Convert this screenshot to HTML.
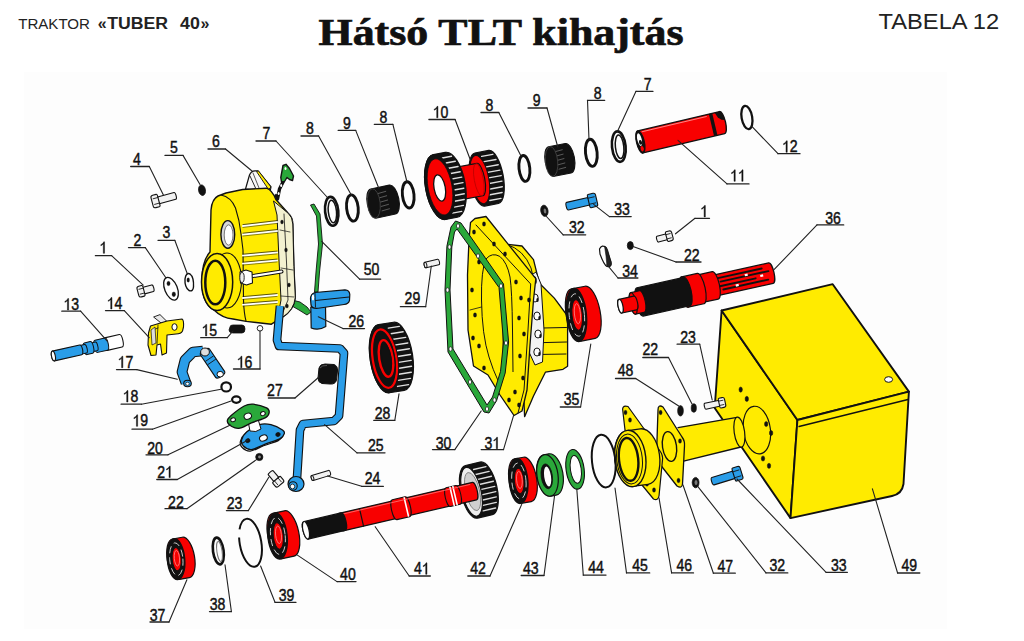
<!DOCTYPE html>
<html><head><meta charset="utf-8"><title>Hátsó TLT kihajtás</title>
<style>
html,body{margin:0;padding:0;background:#fff;width:1024px;height:641px;overflow:hidden}
svg{display:block}
.lb{font-family:"Liberation Sans",sans-serif;font-size:16px;fill:#111;stroke:#111;stroke-width:0.45px}
.hd{font-family:"Liberation Sans",sans-serif;fill:#222}
.tt{font-family:"Liberation Serif",serif;font-weight:bold;fill:#111}
</style></head><body>
<svg width="1024" height="641" viewBox="0 0 1024 641">
<rect x="0" y="0" width="1024" height="641" fill="#ffffff"/>
<rect x="24" y="72" width="923" height="557" fill="#fdfdfd"/>
<polygon points="721.6,310.5 797.4,420 790.5,518.1 714.7,408" fill="#ffeb00" stroke="#111111" stroke-width="1.9" stroke-linejoin="round" />
<polygon points="721.6,310.5 832.7,284.2 908.9,391.6 797.4,420" fill="#ffeb00" stroke="#111111" stroke-width="1.9" stroke-linejoin="round" />
<path d="M797.4,420 L908.9,391.6 L903.5,484 Q902,494 892,496 L790.5,518.1 Z" fill="#ffeb00" stroke="#111111" stroke-width="1.9" stroke-linejoin="round" />
<polyline points="799,426.5 908,399.5" fill="none" stroke="#111111" stroke-width="1.3" stroke-linejoin="round" stroke-linecap="round" />
<ellipse cx="888.6" cy="379.5" rx="4" ry="2.8" fill="#ffffff" stroke="#111111" stroke-width="1.0" />
<ellipse cx="756.9" cy="430.1" rx="13.5" ry="24" fill="none" stroke="#111111" stroke-width="1.2" transform="rotate(-8 756.9 430.1)" />
<ellipse cx="740.7" cy="389.6" rx="1.7" ry="2.6" fill="#111111" stroke="#111111" stroke-width="0.5" />
<ellipse cx="746.8" cy="398.9" rx="1.7" ry="2.6" fill="#111111" stroke="#111111" stroke-width="0.5" />
<ellipse cx="766.2" cy="424" rx="1.7" ry="2.6" fill="#111111" stroke="#111111" stroke-width="0.5" />
<ellipse cx="771.1" cy="433" rx="1.7" ry="2.6" fill="#111111" stroke="#111111" stroke-width="0.5" />
<ellipse cx="763" cy="458.5" rx="1.7" ry="2.6" fill="#111111" stroke="#111111" stroke-width="0.5" />
<ellipse cx="769" cy="465.8" rx="1.7" ry="2.6" fill="#111111" stroke="#111111" stroke-width="0.5" />
<polygon points="678,427.6 737,417.3 741,447 683.6,461.1" fill="#ffeb00" stroke="none" stroke-width="0" stroke-linejoin="round" />
<polyline points="678,427.6 737,417.3" fill="none" stroke="#111111" stroke-width="1.3" stroke-linejoin="round" stroke-linecap="round" />
<polyline points="683.6,461.1 741,447" fill="none" stroke="#111111" stroke-width="1.3" stroke-linejoin="round" stroke-linecap="round" />
<ellipse cx="739.4" cy="432.1" rx="5.2" ry="15.2" fill="#ffeb00" stroke="#111111" stroke-width="1.2" transform="rotate(-8 739.4 432.1)" />
<path d="M658,410 Q658,404 663,407 L682,437 Q685,441 684.5,446 L682.5,484 Q682,489 677,486 L659,463 Q656,459 656.5,455 Z" fill="#ffeb00" stroke="#111111" stroke-width="1.3" stroke-linejoin="round" />
<ellipse cx="669.5" cy="446.5" rx="7" ry="15" fill="#ffeb00" stroke="#111111" stroke-width="1.4" transform="rotate(-8 669.5 446.5)" />
<ellipse cx="660.6" cy="412.5" rx="1.5" ry="2.2" fill="#111111" stroke="#111111" stroke-width="0.4" />
<ellipse cx="680" cy="441" rx="1.5" ry="2.2" fill="#111111" stroke="#111111" stroke-width="0.4" />
<ellipse cx="678.5" cy="480.5" rx="1.5" ry="2.2" fill="#111111" stroke="#111111" stroke-width="0.4" />
<ellipse cx="661" cy="457" rx="1.5" ry="2.2" fill="#111111" stroke="#111111" stroke-width="0.4" />
<path d="M622.6,409 Q623,405 628,406.5 L660,451 Q663,455 662.5,460 L659,496 Q658,501 653.5,499 L642,485 L625,430 Z" fill="#ffeb00" stroke="#111111" stroke-width="1.2" stroke-linejoin="round" />
<ellipse cx="625.5" cy="412.5" rx="1.5" ry="2.2" fill="#111111" stroke="#111111" stroke-width="0.4" />
<ellipse cx="630" cy="420" rx="1.5" ry="2.2" fill="#111111" stroke="#111111" stroke-width="0.4" />
<ellipse cx="651" cy="460" rx="1.5" ry="2.2" fill="#111111" stroke="#111111" stroke-width="0.4" />
<ellipse cx="654" cy="490" rx="1.5" ry="2.2" fill="#111111" stroke="#111111" stroke-width="0.4" />
<ellipse cx="647" cy="484" rx="1.5" ry="2.2" fill="#111111" stroke="#111111" stroke-width="0.4" />
<ellipse cx="655" cy="459" rx="3.2" ry="4.2" fill="#ffeb00" stroke="#111111" stroke-width="1.0" />
<g transform="translate(630.3 458.5) rotate(-8)">
<path d="M0,-28 L14,-28 A15.4,28 0 0 1 14,28 L0,28 A15.4,28 0 0 1 0,-28 Z" fill="#ffeb00" stroke="#111111" stroke-width="1.3" stroke-linejoin="round" />
</g>
<ellipse cx="630.3" cy="458.5" rx="15.5" ry="28.3" fill="#ffeb00" stroke="#111111" stroke-width="1.4" transform="rotate(-6 630.3 458.5)" />
<ellipse cx="629.5" cy="459" rx="12.8" ry="25" fill="none" stroke="#111111" stroke-width="1.0" transform="rotate(-6 629.5 459)" />
<ellipse cx="628.6" cy="459.4" rx="9.6" ry="21.5" fill="#ffeb00" stroke="#111111" stroke-width="2.4" transform="rotate(-6 628.6 459.4)" />
<ellipse cx="680.5" cy="410.8" rx="2.9" ry="5.3" fill="#111111" stroke="#111111" stroke-width="0.6" />
<ellipse cx="693.8" cy="408" rx="2.6" ry="4.3" fill="#111111" stroke="#111111" stroke-width="0.6" />
<g transform="translate(721.5 402.8) rotate(168)">
<path d="M1.5,-3 L16.5,-3 A1,3 0 0 1 16.5,3 L1.5,3 A1,3 0 0 1 1.5,-3 Z" fill="#f2f2f2" stroke="#111111" stroke-width="1.1" stroke-linejoin="round" />
<path d="M-1.5,-5 L1.5,-5 Q2.5,-5 2.5,-3.5 L2.5,3.5 Q2.5,5 1.5,5 L-1.5,5 Q-3.7,5 -3.7,3 L-3.7,-3 Q-3.7,-5 -1.5,-5 Z" fill="#f2f2f2" stroke="#111111" stroke-width="1.1" stroke-linejoin="round" />
<polyline points="-2,-2.2 2.5,-2.2" fill="none" stroke="#111111" stroke-width="0.8" stroke-linejoin="round" stroke-linecap="round" />
<polyline points="-2,2.2 2.5,2.2" fill="none" stroke="#111111" stroke-width="0.8" stroke-linejoin="round" stroke-linecap="round" />
</g>
<ellipse cx="695.6" cy="482.6" rx="3.4" ry="5.2" fill="#111111" stroke="#111111" stroke-width="0.8" />
<ellipse cx="696" cy="482.6" rx="1.5" ry="2.5" fill="#777" stroke="none" stroke-width="0" />
<g transform="translate(737 473.8) rotate(163)">
<path d="M2.1,-3.9 L25.1,-3.9 A1.4,3.9 0 0 1 25.1,3.9 L2.1,3.9 A1.4,3.9 0 0 1 2.1,-3.9 Z" fill="#2a9de8" stroke="#111111" stroke-width="1.1" stroke-linejoin="round" />
<path d="M-2.5,-6.8 L2.5,-6.8 Q3.5,-6.8 3.5,-5.3 L3.5,5.3 Q3.5,6.8 2.5,6.8 L-2.5,6.8 Q-4.7,6.8 -4.7,4.8 L-4.7,-4.8 Q-4.7,-6.8 -2.5,-6.8 Z" fill="#2a9de8" stroke="#111111" stroke-width="1.1" stroke-linejoin="round" />
<polyline points="-3,-3.1 3.5,-3.1" fill="none" stroke="#111111" stroke-width="0.8" stroke-linejoin="round" stroke-linecap="round" />
<polyline points="-3,3.1 3.5,3.1" fill="none" stroke="#111111" stroke-width="0.8" stroke-linejoin="round" stroke-linecap="round" />
</g>
<ellipse cx="603.7" cy="461.1" rx="11.7" ry="26.4" fill="none" stroke="#111111" stroke-width="2.0" transform="rotate(-6 603.7 461.1)" />
<ellipse cx="575.1" cy="469.3" rx="9" ry="20" fill="#2aa83a" stroke="#111111" stroke-width="1.1" transform="rotate(-8 575.1 469.3)" />
<ellipse cx="575.8" cy="469.3" rx="5.4" ry="14" fill="#ffffff" stroke="#111111" stroke-width="1.0" transform="rotate(-8 575.8 469.3)" />
<g transform="translate(547.5 475.4) rotate(-10)">
<path d="M0,-21 L5,-21 A10.5,21 0 0 1 5,21 L0,21 A10.5,21 0 0 1 0,-21 Z" fill="#2aa83a" stroke="#111111" stroke-width="1.2" stroke-linejoin="round" />
</g>
<ellipse cx="547.5" cy="475.4" rx="10.5" ry="21" fill="#2aa83a" stroke="#111111" stroke-width="1.2" transform="rotate(-8 547.5 475.4)" />
<ellipse cx="546.8" cy="476.3" rx="5.6" ry="12.5" fill="#111111" stroke="#111111" stroke-width="0.8" transform="rotate(-8 546.8 476.3)" />
<ellipse cx="547.6" cy="476.5" rx="3.4" ry="10" fill="#ffffff" stroke="none" stroke-width="0" transform="rotate(-8 547.6 476.5)" />
<g transform="translate(518.5 481) rotate(-10)">
<path d="M0,-22.5 L9,-22.5 A9.3,22.5 0 0 1 9,22.5 L0,22.5 A9.3,22.5 0 0 1 0,-22.5 Z" fill="#f80000" stroke="#111111" stroke-width="1.2" stroke-linejoin="round" />
</g>
<ellipse cx="518.5" cy="481" rx="9.3" ry="22.5" fill="#111111" stroke="#111111" stroke-width="1.4" transform="rotate(-5 518.5 481)" />
<ellipse cx="518.9" cy="481" rx="7.1" ry="18" fill="none" stroke="#d8d8d8" stroke-width="0.9" transform="rotate(-5 518.9 481)" stroke-dasharray="7 4"/>
<ellipse cx="519.2" cy="481" rx="4.8" ry="12.8" fill="#f80000" stroke="#111111" stroke-width="1.0" transform="rotate(-5 519.2 481)" />
<ellipse cx="519.4" cy="479.9" rx="2.8" ry="8.6" fill="none" stroke="#ff9a9a" stroke-width="0.7" transform="rotate(-5 519.4 479.9)" />
<g transform="translate(306 530.3) rotate(-13.1)">
<path d="M170,-27 L185,-27 A10.8,27 0 0 1 185,27 L170,27 A10.8,27 0 0 1 170,-27 Z" fill="#111111" stroke="#111111" stroke-width="1.2" stroke-linejoin="round" />
<polyline points="177,-21.2 189.7,-21.2" fill="none" stroke="#dddddd" stroke-width="1.4" stroke-linejoin="round" stroke-linecap="round" />
<polyline points="177,-15.9 191.7,-15.9" fill="none" stroke="#dddddd" stroke-width="1.4" stroke-linejoin="round" stroke-linecap="round" />
<polyline points="177,-10.6 192.9,-10.6" fill="none" stroke="#dddddd" stroke-width="1.4" stroke-linejoin="round" stroke-linecap="round" />
<polyline points="177,-5.3 193.6,-5.3" fill="none" stroke="#dddddd" stroke-width="1.4" stroke-linejoin="round" stroke-linecap="round" />
<polyline points="177,0 193.8,0" fill="none" stroke="#dddddd" stroke-width="1.4" stroke-linejoin="round" stroke-linecap="round" />
<polyline points="177,5.3 193.6,5.3" fill="none" stroke="#dddddd" stroke-width="1.4" stroke-linejoin="round" stroke-linecap="round" />
<polyline points="177,10.6 192.9,10.6" fill="none" stroke="#dddddd" stroke-width="1.4" stroke-linejoin="round" stroke-linecap="round" />
<polyline points="177,15.9 191.7,15.9" fill="none" stroke="#dddddd" stroke-width="1.4" stroke-linejoin="round" stroke-linecap="round" />
<polyline points="177,21.2 189.7,21.2" fill="none" stroke="#dddddd" stroke-width="1.4" stroke-linejoin="round" stroke-linecap="round" />
<ellipse cx="170" cy="0" rx="9.5" ry="25" fill="#eeeeee" stroke="#111111" stroke-width="1.2" />
<ellipse cx="171" cy="0" rx="7" ry="19.5" fill="#d0d0d0" stroke="#777" stroke-width="0.8" />
<path d="M36,-9 L173,-9 A2.7,9 0 0 1 173,9 L36,9 A2.7,9 0 0 1 36,-9 Z" fill="#f80000" stroke="#111111" stroke-width="1.2" stroke-linejoin="round" />
<path d="M146,-9.6 L156,-9.6 A2.9,9.6 0 0 1 156,9.6 L146,9.6 A2.9,9.6 0 0 1 146,-9.6 Z" fill="#f80000" stroke="#111111" stroke-width="1.0" stroke-linejoin="round" />
<path d="M91,-10.2 L104,-10.2 A3.1,10.2 0 0 1 104,10.2 L91,10.2 A3.1,10.2 0 0 1 91,-10.2 Z" fill="#f80000" stroke="#111111" stroke-width="1.1" stroke-linejoin="round" />
<polyline points="57,-9 57,9" fill="none" stroke="#111111" stroke-width="1.2" stroke-linejoin="round" stroke-linecap="round" />
<polyline points="103,-9.3 103,9.3" fill="none" stroke="#ffffff" stroke-width="1.6" stroke-linejoin="round" stroke-linecap="round" />
<polyline points="150,-9.3 150,9.3" fill="none" stroke="#ffffff" stroke-width="1.6" stroke-linejoin="round" stroke-linecap="round" />
<polyline points="153,-9.3 153,9.3" fill="none" stroke="#ffffff" stroke-width="1.6" stroke-linejoin="round" stroke-linecap="round" />
<polyline points="40,-7.5 170,-7.5" fill="none" stroke="#ff8080" stroke-width="0.7" stroke-linejoin="round" stroke-linecap="round" />
<path d="M0,-9 L38,-9 A3,9 0 0 1 38,9 L0,9 A3,9 0 0 1 0,-9 Z" fill="#111111" stroke="#111111" stroke-width="1.2" stroke-linejoin="round" />
<ellipse cx="0" cy="0" rx="3" ry="9" fill="#ffffff" stroke="#111111" stroke-width="1.2" />
</g>
<g transform="translate(277.5 536) rotate(-12)">
<path d="M0,-23.2 L12,-23.2 A9.6,23.2 0 0 1 12,23.2 L0,23.2 A9.6,23.2 0 0 1 0,-23.2 Z" fill="#f80000" stroke="#111111" stroke-width="1.2" stroke-linejoin="round" />
</g>
<ellipse cx="277.5" cy="536" rx="9.6" ry="23.2" fill="#111111" stroke="#111111" stroke-width="1.4" transform="rotate(-6 277.5 536)" />
<ellipse cx="277.9" cy="536" rx="7.3" ry="18.6" fill="none" stroke="#d8d8d8" stroke-width="0.9" transform="rotate(-6 277.9 536)" stroke-dasharray="7 4"/>
<ellipse cx="278.3" cy="536" rx="5" ry="13.2" fill="#f80000" stroke="#111111" stroke-width="1.0" transform="rotate(-6 278.3 536)" />
<ellipse cx="278.5" cy="534.8" rx="2.9" ry="8.8" fill="none" stroke="#ff9a9a" stroke-width="0.7" transform="rotate(-6 278.5 534.8)" />
<ellipse cx="250.5" cy="542.8" rx="10.8" ry="24.3" fill="none" stroke="#111111" stroke-width="2" stroke-dasharray="98 8" stroke-dashoffset="-72" transform="rotate(-10 250.5 542.8)"/>
<ellipse cx="218.3" cy="551" rx="5.3" ry="13.5" fill="none" stroke="#111111" stroke-width="2.6" transform="rotate(-8 218.3 551)" />
<ellipse cx="219.5" cy="551.5" rx="2.6" ry="10" fill="none" stroke="#777" stroke-width="1.0" transform="rotate(-8 219.5 551.5)" />
<g transform="translate(176 559.2) rotate(-10)">
<path d="M0,-20.5 L10,-20.5 A8.7,20.5 0 0 1 10,20.5 L0,20.5 A8.7,20.5 0 0 1 0,-20.5 Z" fill="#f80000" stroke="#111111" stroke-width="1.2" stroke-linejoin="round" />
</g>
<ellipse cx="176" cy="559.2" rx="8.7" ry="20.5" fill="#111111" stroke="#111111" stroke-width="1.4" transform="rotate(-5 176 559.2)" />
<ellipse cx="176.3" cy="559.2" rx="6.6" ry="16.4" fill="none" stroke="#d8d8d8" stroke-width="0.9" transform="rotate(-5 176.3 559.2)" stroke-dasharray="7 4"/>
<ellipse cx="176.7" cy="559.2" rx="4.5" ry="11.7" fill="#f80000" stroke="#111111" stroke-width="1.0" transform="rotate(-5 176.7 559.2)" />
<ellipse cx="176.9" cy="558.2" rx="2.6" ry="7.8" fill="none" stroke="#ff9a9a" stroke-width="0.7" transform="rotate(-5 176.9 558.2)" />
<g transform="translate(620.5 306.2) rotate(-12.4)">
<path d="M95,-10.5 L154,-10.5 A3.1,10.5 0 0 1 154,10.5 L95,10.5 A3.1,10.5 0 0 1 95,-10.5 Z" fill="#f80000" stroke="#111111" stroke-width="1.3" stroke-linejoin="round" />
<polyline points="100,-6.5 146,-6.5" fill="none" stroke="#111111" stroke-width="1.9" stroke-linejoin="round" stroke-linecap="round" />
<polyline points="103,-2.5 152,-2.5" fill="none" stroke="#111111" stroke-width="1.9" stroke-linejoin="round" stroke-linecap="round" />
<polyline points="99,1.8 138,1.8" fill="none" stroke="#111111" stroke-width="1.9" stroke-linejoin="round" stroke-linecap="round" />
<polyline points="104,5.8 150,5.8" fill="none" stroke="#111111" stroke-width="1.9" stroke-linejoin="round" stroke-linecap="round" />
<rect x="128" y="-4.6" width="3" height="2.2" fill="#fff"/>
<rect x="143" y="-0.6" width="3" height="2.2" fill="#fff"/>
<rect x="117" y="3.5" width="3" height="2.2" fill="#fff"/>
<path d="M80,-14 L97,-14 A4.2,14 0 0 1 97,14 L80,14 A4.2,14 0 0 1 80,-14 Z" fill="#f80000" stroke="#111111" stroke-width="1.2" stroke-linejoin="round" />
<path d="M66,-15.5 L82,-15.5 A4.6,15.5 0 0 1 82,15.5 L66,15.5 A4.6,15.5 0 0 1 66,-15.5 Z" fill="#f80000" stroke="#111111" stroke-width="1.2" stroke-linejoin="round" />
<ellipse cx="66" cy="0" rx="4.6" ry="15.5" fill="#f80000" stroke="#111111" stroke-width="1.2" />
<path d="M20,-14.5 L68,-14.5 A4.3,14.5 0 0 1 68,14.5 L20,14.5 A4.3,14.5 0 0 1 20,-14.5 Z" fill="#111111" stroke="#111111" stroke-width="1.2" stroke-linejoin="round" />
<path d="M13,-11 L22,-11 A3.3,11 0 0 1 22,11 L13,11 A3.3,11 0 0 1 13,-11 Z" fill="#f80000" stroke="#111111" stroke-width="1.2" stroke-linejoin="round" />
<ellipse cx="13" cy="0" rx="3.3" ry="11" fill="#f80000" stroke="#111111" stroke-width="1.2" />
<path d="M0,-7 L15,-7 A2.4,7 0 0 1 15,7 L0,7 A2.4,7 0 0 1 0,-7 Z" fill="#f80000" stroke="#111111" stroke-width="1.2" stroke-linejoin="round" />
<ellipse cx="0" cy="0" rx="2.4" ry="7" fill="#ffffff" stroke="#111111" stroke-width="1.2" />
</g>
<polygon points="506.7,244.3 522,246 533.5,259.6 539.4,283.3 554.3,298.1 567.6,316 567.6,366.3 563,369.3 545.4,372.2 533.5,396 524.6,416.7 520,300" fill="#ffeb00" stroke="#111111" stroke-width="1.3" stroke-linejoin="round" />
<path d="M506.7,244.3 Q524,250 531,268 Q534,276 533,285" fill="none" stroke="#111111" stroke-width="1.0" stroke-linejoin="round" />
<polyline points="543,328 566.5,327.5" fill="none" stroke="#111111" stroke-width="1.0" stroke-linejoin="round" stroke-linecap="round" />
<polyline points="543,342.6 566.5,342" fill="none" stroke="#111111" stroke-width="1.0" stroke-linejoin="round" stroke-linecap="round" />
<polyline points="543,354.4 566,354" fill="none" stroke="#111111" stroke-width="1.0" stroke-linejoin="round" stroke-linecap="round" />
<path d="M527,278 L536,272 L541,284 L544,330 L542.5,362 L535,365 L529,352 L527.5,300 Z" fill="#f2f2f2" stroke="#111111" stroke-width="1.0" stroke-linejoin="round" />
<ellipse cx="533" cy="280" rx="3.2" ry="4" fill="#ffffff" stroke="#111111" stroke-width="1.0" />
<ellipse cx="535.5" cy="282" rx="1.2" ry="2" fill="#111111" stroke="none" stroke-width="0" />
<ellipse cx="535" cy="298" rx="3.2" ry="4" fill="#ffffff" stroke="#111111" stroke-width="1.0" />
<ellipse cx="537.5" cy="300" rx="1.2" ry="2" fill="#111111" stroke="none" stroke-width="0" />
<ellipse cx="537" cy="316" rx="3.2" ry="4" fill="#ffffff" stroke="#111111" stroke-width="1.0" />
<ellipse cx="539.5" cy="318" rx="1.2" ry="2" fill="#111111" stroke="none" stroke-width="0" />
<ellipse cx="538" cy="334" rx="3.2" ry="4" fill="#ffffff" stroke="#111111" stroke-width="1.0" />
<ellipse cx="540.5" cy="336" rx="1.2" ry="2" fill="#111111" stroke="none" stroke-width="0" />
<ellipse cx="537" cy="352" rx="3.2" ry="4" fill="#ffffff" stroke="#111111" stroke-width="1.0" />
<ellipse cx="539.5" cy="354" rx="1.2" ry="2" fill="#111111" stroke="none" stroke-width="0" />
<polygon points="470.5,222.5 475,218.5 486,216.5 535.8,278.7 533.5,300 530,345 527,390 522,411 514,415.5 500,395 488,375 473.5,366 468,330 467.5,275 469,240" fill="#ffeb00" stroke="#111111" stroke-width="1.3" stroke-linejoin="round" />
<polyline points="476,225 530.7,284 528,330 524,390 518,413" fill="none" stroke="#111111" stroke-width="1.0" stroke-linejoin="round" stroke-linecap="round" />
<path d="M481.5,300 Q481,270 486,259 Q492,252 499.8,256.4 Q507,262 510,277 Q512,290 512.5,330 L513,372" fill="none" stroke="#111111" stroke-width="1.0" stroke-linejoin="round" />
<path d="M481.5,300 Q482,335 489,357 Q493,370 498,380.5" fill="none" stroke="#111111" stroke-width="1.0" stroke-linejoin="round" />
<polyline points="470,310 481.5,307" fill="none" stroke="#111111" stroke-width="0.8" stroke-linejoin="round" stroke-linecap="round" />
<polyline points="503,290 503,370" fill="none" stroke="#111111" stroke-width="0.8" stroke-linejoin="round" stroke-linecap="round" />
<ellipse cx="474" cy="232" rx="1.6" ry="2.2" fill="#111111" stroke="#111111" stroke-width="0.3" />
<ellipse cx="484" cy="224" rx="1.6" ry="2.2" fill="#111111" stroke="#111111" stroke-width="0.3" />
<ellipse cx="479" cy="262" rx="1.6" ry="2.2" fill="#111111" stroke="#111111" stroke-width="0.3" />
<ellipse cx="472" cy="290" rx="1.6" ry="2.2" fill="#111111" stroke="#111111" stroke-width="0.3" />
<ellipse cx="475" cy="315" rx="1.6" ry="2.2" fill="#111111" stroke="#111111" stroke-width="0.3" />
<ellipse cx="473" cy="338" rx="1.6" ry="2.2" fill="#111111" stroke="#111111" stroke-width="0.3" />
<ellipse cx="479" cy="346" rx="1.6" ry="2.2" fill="#111111" stroke="#111111" stroke-width="0.3" />
<ellipse cx="484" cy="368" rx="1.6" ry="2.2" fill="#111111" stroke="#111111" stroke-width="0.3" />
<ellipse cx="494" cy="244" rx="1.6" ry="2.2" fill="#111111" stroke="#111111" stroke-width="0.3" />
<ellipse cx="505" cy="254" rx="1.6" ry="2.2" fill="#111111" stroke="#111111" stroke-width="0.3" />
<ellipse cx="516" cy="282" rx="1.6" ry="2.2" fill="#111111" stroke="#111111" stroke-width="0.3" />
<ellipse cx="521" cy="298" rx="1.6" ry="2.2" fill="#111111" stroke="#111111" stroke-width="0.3" />
<ellipse cx="519" cy="318" rx="1.6" ry="2.2" fill="#111111" stroke="#111111" stroke-width="0.3" />
<ellipse cx="524" cy="334" rx="1.6" ry="2.2" fill="#111111" stroke="#111111" stroke-width="0.3" />
<ellipse cx="520" cy="356" rx="1.6" ry="2.2" fill="#111111" stroke="#111111" stroke-width="0.3" />
<ellipse cx="523" cy="378" rx="1.6" ry="2.2" fill="#111111" stroke="#111111" stroke-width="0.3" />
<ellipse cx="515" cy="392" rx="1.6" ry="2.2" fill="#111111" stroke="#111111" stroke-width="0.3" />
<ellipse cx="519" cy="405" rx="1.6" ry="2.2" fill="#111111" stroke="#111111" stroke-width="0.3" />
<ellipse cx="509" cy="400" rx="1.6" ry="2.2" fill="#111111" stroke="#111111" stroke-width="0.3" />
<ellipse cx="529" cy="300" rx="1.6" ry="2.2" fill="#111111" stroke="#111111" stroke-width="0.3" />
<path d="M455.5,221 L461,223 L503.5,284 L508.6,342 L505.2,373 L496.6,400.6 L489,413 L484,412 L448,352 L445,290 L446.9,246.2 L451,227 Z M457,229 L499,287.5 L503.5,342 L500.5,371.5 L492.5,397 L487,405 L453,349 L450,290 L451.8,247 L454.5,232 Z" fill="#2aa83a" stroke="#111111" stroke-width="1.0" stroke-linejoin="round" fill-rule="evenodd"/>
<ellipse cx="458" cy="226" rx="1.6" ry="2.2" fill="#ffffff" stroke="#111111" stroke-width="0.7" />
<ellipse cx="478" cy="256" rx="1.6" ry="2.2" fill="#ffffff" stroke="#111111" stroke-width="0.7" />
<ellipse cx="501" cy="286" rx="1.6" ry="2.2" fill="#ffffff" stroke="#111111" stroke-width="0.7" />
<ellipse cx="506" cy="343" rx="1.6" ry="2.2" fill="#ffffff" stroke="#111111" stroke-width="0.7" />
<ellipse cx="494.5" cy="400" rx="1.6" ry="2.2" fill="#ffffff" stroke="#111111" stroke-width="0.7" />
<ellipse cx="487" cy="409" rx="1.6" ry="2.2" fill="#ffffff" stroke="#111111" stroke-width="0.7" />
<ellipse cx="450.5" cy="349" rx="1.6" ry="2.2" fill="#ffffff" stroke="#111111" stroke-width="0.7" />
<ellipse cx="447.5" cy="290" rx="1.6" ry="2.2" fill="#ffffff" stroke="#111111" stroke-width="0.7" />
<ellipse cx="449.5" cy="247" rx="1.6" ry="2.2" fill="#ffffff" stroke="#111111" stroke-width="0.7" />
<ellipse cx="470" cy="382" rx="1.6" ry="2.2" fill="#ffffff" stroke="#111111" stroke-width="0.7" />
<g transform="translate(425.5 265) rotate(-13)">
<path d="M0,-2.8 L13,-2.8 A1.3,2.8 0 0 1 13,2.8 L0,2.8 A1.3,2.8 0 0 1 0,-2.8 Z" fill="#f2f2f2" stroke="#111111" stroke-width="1.0" stroke-linejoin="round" />
<ellipse cx="0" cy="0" rx="1.3" ry="2.8" fill="#f2f2f2" stroke="#111111" stroke-width="1.0" />
</g>
<g transform="translate(576.4 315) rotate(-11)">
<path d="M0,-26.6 L14,-26.6 A10,26.6 0 0 1 14,26.6 L0,26.6 A10,26.6 0 0 1 0,-26.6 Z" fill="#f80000" stroke="#111111" stroke-width="1.2" stroke-linejoin="round" />
</g>
<ellipse cx="576.4" cy="315" rx="10" ry="26.6" fill="#111111" stroke="#111111" stroke-width="1.4" transform="rotate(-5.5 576.4 315)" />
<ellipse cx="576.8" cy="315" rx="7.6" ry="21.3" fill="none" stroke="#d8d8d8" stroke-width="0.9" transform="rotate(-5.5 576.8 315)" stroke-dasharray="7 4"/>
<ellipse cx="577.2" cy="315" rx="5.2" ry="15.2" fill="#f80000" stroke="#111111" stroke-width="1.0" transform="rotate(-5.5 577.2 315)" />
<ellipse cx="577.4" cy="313.7" rx="3" ry="10.1" fill="none" stroke="#ff9a9a" stroke-width="0.7" transform="rotate(-5.5 577.4 313.7)" />
<path d="M599.5,249 Q602,244 606,247.5 L611,262 Q612,267.5 607,266.5 Q604,265 600,254 Z" fill="#ffffff" stroke="#111111" stroke-width="1.2" stroke-linejoin="round" />
<path d="M604.5,246 Q607,247 608,251 L611,262 Q612,267.5 607,266.5 L606,256 Z" fill="#222" stroke="#111111" stroke-width="0.6" stroke-linejoin="round" />
<ellipse cx="630.3" cy="245.6" rx="3" ry="4" fill="#111111" stroke="#111111" stroke-width="0.8" />
<g transform="translate(668.8 236.2) rotate(165)">
<path d="M1.5,-3 L11.5,-3 A1,3 0 0 1 11.5,3 L1.5,3 A1,3 0 0 1 1.5,-3 Z" fill="#f2f2f2" stroke="#111111" stroke-width="1.1" stroke-linejoin="round" />
<path d="M-1.5,-5 L1.5,-5 Q2.5,-5 2.5,-3.5 L2.5,3.5 Q2.5,5 1.5,5 L-1.5,5 Q-3.7,5 -3.7,3 L-3.7,-3 Q-3.7,-5 -1.5,-5 Z" fill="#f2f2f2" stroke="#111111" stroke-width="1.1" stroke-linejoin="round" />
<polyline points="-2,-2.2 2.5,-2.2" fill="none" stroke="#111111" stroke-width="0.8" stroke-linejoin="round" stroke-linecap="round" />
<polyline points="-2,2.2 2.5,2.2" fill="none" stroke="#111111" stroke-width="0.8" stroke-linejoin="round" stroke-linecap="round" />
</g>
<g transform="translate(592 200.5) rotate(167)">
<path d="M2.1,-3.9 L25.1,-3.9 A1.4,3.9 0 0 1 25.1,3.9 L2.1,3.9 A1.4,3.9 0 0 1 2.1,-3.9 Z" fill="#2a9de8" stroke="#111111" stroke-width="1.1" stroke-linejoin="round" />
<path d="M-2.5,-6.8 L2.5,-6.8 Q3.5,-6.8 3.5,-5.3 L3.5,5.3 Q3.5,6.8 2.5,6.8 L-2.5,6.8 Q-4.7,6.8 -4.7,4.8 L-4.7,-4.8 Q-4.7,-6.8 -2.5,-6.8 Z" fill="#2a9de8" stroke="#111111" stroke-width="1.1" stroke-linejoin="round" />
<polyline points="-3,-3.1 3.5,-3.1" fill="none" stroke="#111111" stroke-width="0.8" stroke-linejoin="round" stroke-linecap="round" />
<polyline points="-3,3.1 3.5,3.1" fill="none" stroke="#111111" stroke-width="0.8" stroke-linejoin="round" stroke-linecap="round" />
</g>
<ellipse cx="544.4" cy="210.8" rx="3.6" ry="5.6" fill="#111111" stroke="#111111" stroke-width="0.8" transform="rotate(-10 544.4 210.8)" />
<ellipse cx="545" cy="211" rx="1.3" ry="2.5" fill="#777" stroke="none" stroke-width="0" transform="rotate(-10 545 211)" />
<ellipse cx="746.9" cy="117.5" rx="5.3" ry="11.8" fill="none" stroke="#111111" stroke-width="2.3" transform="rotate(-10 746.9 117.5)" />
<g transform="translate(640.4 141.9) rotate(-13.3)">
<path d="M0,-11.3 L84,-11.3 A3.4,11.3 0 0 1 84,11.3 L0,11.3 A3.4,11.3 0 0 1 0,-11.3 Z" fill="#f80000" stroke="#111111" stroke-width="1.4" stroke-linejoin="round" />
<path d="M73,-11.3 L76.5,-11.3 L76.5,11.3 L73,11.3 Z" fill="#111111"/>
<path d="M79,-11.3 L84,-11.3 A3.4,11.3 0 0 1 87.2,-2 L84,-3 L81,-6 Z" fill="#111111"/>
<polyline points="4,-9.5 70,-9.5" fill="none" stroke="#ff9a9a" stroke-width="0.8" stroke-linejoin="round" stroke-linecap="round" />
<ellipse cx="0" cy="0" rx="3.8" ry="11.3" fill="#111111" stroke="#111111" stroke-width="1.4" />
<ellipse cx="-0.3" cy="-2.5" rx="2.2" ry="6.5" fill="#ffffff" stroke="none" stroke-width="0" />
<ellipse cx="0" cy="0.5" rx="1.5" ry="2.5" fill="#111111" stroke="none" stroke-width="0" />
<ellipse cx="0.2" cy="7" rx="1.6" ry="2.8" fill="#f80000" stroke="none" stroke-width="0" />
</g>
<ellipse cx="618.8" cy="146.6" rx="6.8" ry="15.3" fill="none" stroke="#111111" stroke-width="2.6" transform="rotate(-6 618.8 146.6)" />
<ellipse cx="619.6" cy="146.8" rx="4.2" ry="11.8" fill="none" stroke="#111111" stroke-width="1.5" transform="rotate(-6 619.6 146.8)" />
<ellipse cx="591.3" cy="152.8" rx="5.8" ry="13.6" fill="none" stroke="#111111" stroke-width="2.9" transform="rotate(-6 591.3 152.8)" />
<g transform="translate(551.5 161.5) rotate(-11)">
<path d="M0,-15 L17,-15 A6.2,15 0 0 1 17,15 L0,15 A6.2,15 0 0 1 0,-15 Z" fill="#111111" stroke="#111111" stroke-width="1.2" stroke-linejoin="round" />
<polyline points="5.9,-9 12.8,-9.5" fill="none" stroke="#666" stroke-width="0.8" stroke-linejoin="round" stroke-linecap="round" />
<polyline points="5.9,-4.5 12.8,-5" fill="none" stroke="#666" stroke-width="0.8" stroke-linejoin="round" stroke-linecap="round" />
<polyline points="5.9,0 12.8,-0.5" fill="none" stroke="#666" stroke-width="0.8" stroke-linejoin="round" stroke-linecap="round" />
<polyline points="5.9,4.5 12.8,4" fill="none" stroke="#666" stroke-width="0.8" stroke-linejoin="round" stroke-linecap="round" />
<polyline points="5.9,9 12.8,8.5" fill="none" stroke="#666" stroke-width="0.8" stroke-linejoin="round" stroke-linecap="round" />
</g>
<ellipse cx="551.5" cy="161.5" rx="6.2" ry="15" fill="#111111" stroke="#444" stroke-width="0.8" transform="rotate(-5.5 551.5 161.5)" />
<ellipse cx="524.4" cy="168.4" rx="5.4" ry="13" fill="none" stroke="#111111" stroke-width="2.9" transform="rotate(-6 524.4 168.4)" />
<g transform="translate(439.5 187) rotate(-10.5)">
<path d="M41,-27 L55,-27 A9.7,27 0 0 1 55,27 L41,27 A9.7,27 0 0 1 41,-27 Z" fill="#111111" stroke="#111111" stroke-width="1.2" stroke-linejoin="round" />
<polyline points="47,-22.4 58.4,-22.4" fill="none" stroke="#e0e0e0" stroke-width="1.4" stroke-linejoin="round" stroke-linecap="round" />
<polyline points="47,-16.8 60.6,-16.8" fill="none" stroke="#e0e0e0" stroke-width="1.4" stroke-linejoin="round" stroke-linecap="round" />
<polyline points="47,-11.2 61.8,-11.2" fill="none" stroke="#e0e0e0" stroke-width="1.4" stroke-linejoin="round" stroke-linecap="round" />
<polyline points="47,-5.6 62.5,-5.6" fill="none" stroke="#e0e0e0" stroke-width="1.4" stroke-linejoin="round" stroke-linecap="round" />
<polyline points="47,0 62.7,0" fill="none" stroke="#e0e0e0" stroke-width="1.4" stroke-linejoin="round" stroke-linecap="round" />
<polyline points="47,5.6 62.5,5.6" fill="none" stroke="#e0e0e0" stroke-width="1.4" stroke-linejoin="round" stroke-linecap="round" />
<polyline points="47,11.2 61.8,11.2" fill="none" stroke="#e0e0e0" stroke-width="1.4" stroke-linejoin="round" stroke-linecap="round" />
<polyline points="47,16.8 60.6,16.8" fill="none" stroke="#e0e0e0" stroke-width="1.4" stroke-linejoin="round" stroke-linecap="round" />
<polyline points="47,22.4 58.4,22.4" fill="none" stroke="#e0e0e0" stroke-width="1.4" stroke-linejoin="round" stroke-linecap="round" />
<ellipse cx="41" cy="0" rx="9" ry="24.5" fill="#f80000" stroke="#111111" stroke-width="1.0" />
<path d="M14,-16.5 L41,-16.5 A5,16.5 0 0 1 41,16.5 L14,16.5 A5,16.5 0 0 1 14,-16.5 Z" fill="#f80000" stroke="#111111" stroke-width="1.2" stroke-linejoin="round" />
<ellipse cx="40" cy="0" rx="4.5" ry="16.5" fill="none" stroke="#b00" stroke-width="0.8" />
<path d="M0,-33 L12,-33 A13.9,33 0 0 1 12,33 L0,33 A13.9,33 0 0 1 0,-33 Z" fill="#111111" stroke="#111111" stroke-width="1.2" stroke-linejoin="round" />
<polyline points="8,-28 17.4,-28" fill="none" stroke="#e0e0e0" stroke-width="1.4" stroke-linejoin="round" stroke-linecap="round" />
<polyline points="8,-22.4 20.2,-22.4" fill="none" stroke="#e0e0e0" stroke-width="1.4" stroke-linejoin="round" stroke-linecap="round" />
<polyline points="8,-16.8 22,-16.8" fill="none" stroke="#e0e0e0" stroke-width="1.4" stroke-linejoin="round" stroke-linecap="round" />
<polyline points="8,-11.2 23.1,-11.2" fill="none" stroke="#e0e0e0" stroke-width="1.4" stroke-linejoin="round" stroke-linecap="round" />
<polyline points="8,-5.6 23.7,-5.6" fill="none" stroke="#e0e0e0" stroke-width="1.4" stroke-linejoin="round" stroke-linecap="round" />
<polyline points="8,0 23.9,0" fill="none" stroke="#e0e0e0" stroke-width="1.4" stroke-linejoin="round" stroke-linecap="round" />
<polyline points="8,5.6 23.7,5.6" fill="none" stroke="#e0e0e0" stroke-width="1.4" stroke-linejoin="round" stroke-linecap="round" />
<polyline points="8,11.2 23.1,11.2" fill="none" stroke="#e0e0e0" stroke-width="1.4" stroke-linejoin="round" stroke-linecap="round" />
<polyline points="8,16.8 22,16.8" fill="none" stroke="#e0e0e0" stroke-width="1.4" stroke-linejoin="round" stroke-linecap="round" />
<polyline points="8,22.4 20.2,22.4" fill="none" stroke="#e0e0e0" stroke-width="1.4" stroke-linejoin="round" stroke-linecap="round" />
<polyline points="8,28 17.4,28" fill="none" stroke="#e0e0e0" stroke-width="1.4" stroke-linejoin="round" stroke-linecap="round" />
<ellipse cx="0" cy="0" rx="14" ry="33" fill="#111111" stroke="#111111" stroke-width="1.0" />
<ellipse cx="0.5" cy="0" rx="12" ry="28.5" fill="#f80000" stroke="#111111" stroke-width="0.8" />
<ellipse cx="0" cy="1" rx="5.6" ry="13.3" fill="#ffffff" stroke="#111111" stroke-width="1.3" />
</g>
<ellipse cx="408.2" cy="194.9" rx="5.8" ry="13.2" fill="none" stroke="#111111" stroke-width="2.9" transform="rotate(-6 408.2 194.9)" />
<g transform="translate(373.8 203.5) rotate(-12)">
<path d="M0,-14.8 L19,-14.8 A6.4,14.8 0 0 1 19,14.8 L0,14.8 A6.4,14.8 0 0 1 0,-14.8 Z" fill="#111111" stroke="#111111" stroke-width="1.2" stroke-linejoin="round" />
<polyline points="6.6,-8.9 14.2,-9.4" fill="none" stroke="#666" stroke-width="0.8" stroke-linejoin="round" stroke-linecap="round" />
<polyline points="6.6,-4.4 14.2,-4.9" fill="none" stroke="#666" stroke-width="0.8" stroke-linejoin="round" stroke-linecap="round" />
<polyline points="6.6,0 14.2,-0.5" fill="none" stroke="#666" stroke-width="0.8" stroke-linejoin="round" stroke-linecap="round" />
<polyline points="6.6,4.4 14.2,3.9" fill="none" stroke="#666" stroke-width="0.8" stroke-linejoin="round" stroke-linecap="round" />
<polyline points="6.6,8.9 14.2,8.4" fill="none" stroke="#666" stroke-width="0.8" stroke-linejoin="round" stroke-linecap="round" />
</g>
<ellipse cx="373.8" cy="203.5" rx="6.4" ry="14.8" fill="#111111" stroke="#444" stroke-width="0.8" transform="rotate(-6 373.8 203.5)" />
<ellipse cx="352.4" cy="208" rx="5.8" ry="13.2" fill="none" stroke="#111111" stroke-width="2.9" transform="rotate(-6 352.4 208)" />
<ellipse cx="331.7" cy="211.3" rx="6.6" ry="14.5" fill="none" stroke="#111111" stroke-width="2.6" transform="rotate(-6 331.7 211.3)" />
<ellipse cx="332.4" cy="211.5" rx="4.1" ry="11.3" fill="none" stroke="#111111" stroke-width="1.5" transform="rotate(-6 332.4 211.5)" />
<path d="M310.5,205 L314,204 L320,214 L322.5,244 L319.5,272 L318,292 L314.5,292 L316,272 L318.5,244 L316.5,216 Z" fill="#2aa83a" stroke="#111111" stroke-width="0.9" stroke-linejoin="round" />
<polyline points="283.5,181 279.5,189 277.5,199" fill="none" stroke="#111111" stroke-width="3.4" stroke-linejoin="round" stroke-linecap="round" />
<ellipse cx="281.2" cy="185.5" rx="1" ry="1.6" fill="#ffffff" stroke="none" stroke-width="0" />
<ellipse cx="278.6" cy="193.5" rx="1" ry="1.6" fill="#ffffff" stroke="none" stroke-width="0" />
<path d="M283,165.5 L286,164.3 L289.5,168.5 L293.5,176 L292.5,180.5 L289.5,179.5 L287,177.5 L284.5,181.5 L281.5,182 L280.8,177.5 Z" fill="#2aa83a" stroke="#111111" stroke-width="1.4" stroke-linejoin="round" />
<ellipse cx="285.5" cy="168.5" rx="1" ry="1.5" fill="#ffffff" stroke="none" stroke-width="0" />
<path d="M292,300 L300,302 L307,307 L311,312 L307,315 L299,310 L292,306 Z" fill="#2aa83a" stroke="#111111" stroke-width="0.9" stroke-linejoin="round" />
<path d="M245.5,189 L249.5,175 Q251,171 255,170.8 L258,170.8 L271,187 L270,192 Z" fill="#f8f8f8" stroke="#111111" stroke-width="1.2" stroke-linejoin="round" />
<path d="M256.5,171.5 L258.5,171 L271,187 L268.5,189.5 Z" fill="#ffeb00" stroke="#111111" stroke-width="0.9" stroke-linejoin="round" />
<polyline points="250,176 256,189" fill="none" stroke="#111111" stroke-width="0.9" stroke-linejoin="round" stroke-linecap="round" />
<polyline points="253,173 259,188" fill="none" stroke="#111111" stroke-width="0.7" stroke-linejoin="round" stroke-linecap="round" />
<path d="M211,210 Q212,199 218,196 L226,193 L242.7,189.5 L266.6,188.2 Q272,190 275.9,199.5 L288.2,213.3 Q292.5,217 292.8,224 L293.9,266.7 L295.3,297.5 Q294,310 282.6,317.2 L271.4,324.2 L246.1,321.4 L233,319 Q222,318 214,310 Q203,304 202,285 Q201,262 210,252 Z" fill="#ffeb00" stroke="#111111" stroke-width="1.4" stroke-linejoin="round" />
<path d="M273.5,201 L288.2,213.3 Q292.5,217 292.8,224 L293.9,266.7 L295.3,297.5 Q294,310 282.6,317.2 L278,316 L281,300 L279,260 L277,215 Z" fill="#f3f1d0" stroke="#111111" stroke-width="1.0" stroke-linejoin="round" />
<polyline points="284,214 286.5,262 288,300 283,312" fill="none" stroke="#111111" stroke-width="0.8" stroke-linejoin="round" stroke-linecap="round" />
<polyline points="280,230 290,232" fill="none" stroke="#111111" stroke-width="0.7" stroke-linejoin="round" stroke-linecap="round" />
<polyline points="281,268 293,270" fill="none" stroke="#111111" stroke-width="0.7" stroke-linejoin="round" stroke-linecap="round" />
<polyline points="281,296 294,297" fill="none" stroke="#111111" stroke-width="0.7" stroke-linejoin="round" stroke-linecap="round" />
<path d="M221,195 Q231,197 235.5,208 Q239.5,220 241,234 L243,250 L243.5,300 Q244,314 246.1,321.4" fill="none" stroke="#111111" stroke-width="1.1" stroke-linejoin="round" />
<polyline points="243,226 277,222" fill="none" stroke="#ffffff" stroke-width="2.0" stroke-linejoin="round" stroke-linecap="round" />
<polyline points="243,224.6 277,220.6" fill="none" stroke="#111111" stroke-width="0.7" stroke-linejoin="round" stroke-linecap="round" />
<polyline points="243,227.4 277,223.4" fill="none" stroke="#111111" stroke-width="0.5" stroke-linejoin="round" stroke-linecap="round" />
<polyline points="243,234.6 277,231" fill="none" stroke="#ffffff" stroke-width="2.0" stroke-linejoin="round" stroke-linecap="round" />
<polyline points="243,233.2 277,229.6" fill="none" stroke="#111111" stroke-width="0.7" stroke-linejoin="round" stroke-linecap="round" />
<polyline points="243,236 277,232.4" fill="none" stroke="#111111" stroke-width="0.5" stroke-linejoin="round" stroke-linecap="round" />
<polyline points="243,255.6 277,252.5" fill="none" stroke="#ffffff" stroke-width="2.0" stroke-linejoin="round" stroke-linecap="round" />
<polyline points="243,254.2 277,251.1" fill="none" stroke="#111111" stroke-width="0.7" stroke-linejoin="round" stroke-linecap="round" />
<polyline points="243,257 277,253.9" fill="none" stroke="#111111" stroke-width="0.5" stroke-linejoin="round" stroke-linecap="round" />
<polyline points="243,263.6 277,260.5" fill="none" stroke="#ffffff" stroke-width="2.0" stroke-linejoin="round" stroke-linecap="round" />
<polyline points="243,262.2 277,259.1" fill="none" stroke="#111111" stroke-width="0.7" stroke-linejoin="round" stroke-linecap="round" />
<polyline points="243,265 277,261.9" fill="none" stroke="#111111" stroke-width="0.5" stroke-linejoin="round" stroke-linecap="round" />
<polyline points="243,298 277,295" fill="none" stroke="#ffffff" stroke-width="2.0" stroke-linejoin="round" stroke-linecap="round" />
<polyline points="243,296.6 277,293.6" fill="none" stroke="#111111" stroke-width="0.7" stroke-linejoin="round" stroke-linecap="round" />
<polyline points="243,299.4 277,296.4" fill="none" stroke="#111111" stroke-width="0.5" stroke-linejoin="round" stroke-linecap="round" />
<polyline points="243,304.7 277,302" fill="none" stroke="#ffffff" stroke-width="2.0" stroke-linejoin="round" stroke-linecap="round" />
<polyline points="243,303.3 277,300.6" fill="none" stroke="#111111" stroke-width="0.7" stroke-linejoin="round" stroke-linecap="round" />
<polyline points="243,306.1 277,303.4" fill="none" stroke="#111111" stroke-width="0.5" stroke-linejoin="round" stroke-linecap="round" />
<ellipse cx="227.8" cy="234.4" rx="6.9" ry="13.8" fill="#d8d8d8" stroke="#111111" stroke-width="1.4" />
<ellipse cx="228.6" cy="235" rx="4.4" ry="10.2" fill="#ffffff" stroke="#666" stroke-width="0.9" />
<path d="M217.1,253.5 L227,253 A14.5,27.5 0 0 1 227,308 L217.1,310.5 Z" fill="#ffeb00" stroke="none" stroke-width="0" stroke-linejoin="round" />
<ellipse cx="227" cy="280.5" rx="14.5" ry="27.5" fill="#ffeb00" stroke="#111111" stroke-width="1.1" />
<ellipse cx="217.1" cy="282" rx="15.6" ry="28.5" fill="#ffeb00" stroke="#111111" stroke-width="1.5" />
<ellipse cx="215.3" cy="282.5" rx="10" ry="21.8" fill="#ffeb00" stroke="#111111" stroke-width="2.5" />
<polyline points="250,276.5 281.5,271.5" fill="none" stroke="#111111" stroke-width="4.0" stroke-linejoin="round" stroke-linecap="round" />
<polyline points="250,276.5 281.5,271.5" fill="none" stroke="#ffffff" stroke-width="2.0" stroke-linejoin="round" stroke-linecap="round" />
<path d="M240,272 L246,270 L252,272 L252.5,283 L246.5,285 L240.5,283 Z" fill="#ffffff" stroke="#111111" stroke-width="1.1" stroke-linejoin="round" />
<ellipse cx="242" cy="277.5" rx="2.2" ry="5" fill="#eeeeee" stroke="#111111" stroke-width="0.9" />
<ellipse cx="282" cy="222" rx="1.4" ry="2" fill="#111111" stroke="#111111" stroke-width="0.3" />
<ellipse cx="286" cy="250" rx="1.4" ry="2" fill="#111111" stroke="#111111" stroke-width="0.3" />
<ellipse cx="289" cy="285" rx="1.4" ry="2" fill="#111111" stroke="#111111" stroke-width="0.3" />
<ellipse cx="287" cy="306" rx="1.4" ry="2" fill="#111111" stroke="#111111" stroke-width="0.3" />
<ellipse cx="276" cy="196" rx="1.4" ry="2" fill="#111111" stroke="#111111" stroke-width="0.3" />
<path d="M280,306 L277,340 L279,346 L340,348.5 L344,353 L339,416 L334,421 L303,424 L300,430 L297,478" fill="none" stroke="#111111" stroke-width="8.7" stroke-linejoin="round"/>
<path d="M280,306 L277,340 L279,346 L340,348.5 L344,353 L339,416 L334,421 L303,424 L300,430 L297,478" fill="none" stroke="#2a9de8" stroke-width="6.5" stroke-linejoin="round"/>
<ellipse cx="296" cy="484" rx="8" ry="7.5" fill="#2a9de8" stroke="#111111" stroke-width="1.2" />
<ellipse cx="293" cy="486" rx="4.2" ry="4.3" fill="#2a9de8" stroke="#111111" stroke-width="1.1" />
<ellipse cx="292.5" cy="486.5" rx="2.2" ry="2.4" fill="#ffffff" stroke="#111111" stroke-width="0.8" />
<path d="M310.8,307 L325.5,305.5 L325.8,326.5 Q318.5,331 311.2,328 Z" fill="#2a9de8" stroke="#111111" stroke-width="1.2" stroke-linejoin="round" />
<path d="M310.5,299 Q310.5,294 315,292.5 L345,289.8 Q349.5,290 349.8,294.5 L349.5,300.5 Q348.5,304 344,304.5 L320,308 Q312,309.5 311,305 Z" fill="#2a9de8" stroke="#111111" stroke-width="1.2" stroke-linejoin="round" />
<polyline points="315.5,300.5 349.2,297" fill="none" stroke="#111111" stroke-width="1.0" stroke-linejoin="round" stroke-linecap="round" />
<polyline points="315,293 315.5,307" fill="none" stroke="#111111" stroke-width="0.9" stroke-linejoin="round" stroke-linecap="round" />
<ellipse cx="313" cy="297.5" rx="1.2" ry="3" fill="#ffffff" stroke="none" stroke-width="0" />
<path d="M319,368 Q320,364 325,364 L334,364.5 Q338,366 337.5,371 L336.5,380 Q335.5,384.5 330,384 L322,383.5 Q318,382.5 318,378 Z" fill="#111111" stroke="#111111" stroke-width="1.0" stroke-linejoin="round" />
<path d="M320,368 Q322,365 327,365.5" fill="none" stroke="#666" stroke-width="0.8" stroke-linejoin="round" />
<g transform="translate(384 358.7) rotate(-9)">
<path d="M0,-34.5 L15,-34.5 A13.8,34.5 0 0 1 15,34.5 L0,34.5 A13.8,34.5 0 0 1 0,-34.5 Z" fill="#111111" stroke="#111111" stroke-width="1.2" stroke-linejoin="round" />
<polyline points="9,-29.5 20.2,-29.5" fill="none" stroke="#e0e0e0" stroke-width="1.4" stroke-linejoin="round" stroke-linecap="round" />
<polyline points="9,-23.6 23.1,-23.6" fill="none" stroke="#e0e0e0" stroke-width="1.4" stroke-linejoin="round" stroke-linecap="round" />
<polyline points="9,-17.7 24.8,-17.7" fill="none" stroke="#e0e0e0" stroke-width="1.4" stroke-linejoin="round" stroke-linecap="round" />
<polyline points="9,-11.8 26,-11.8" fill="none" stroke="#e0e0e0" stroke-width="1.4" stroke-linejoin="round" stroke-linecap="round" />
<polyline points="9,-5.9 26.6,-5.9" fill="none" stroke="#e0e0e0" stroke-width="1.4" stroke-linejoin="round" stroke-linecap="round" />
<polyline points="9,0 26.8,0" fill="none" stroke="#e0e0e0" stroke-width="1.4" stroke-linejoin="round" stroke-linecap="round" />
<polyline points="9,5.9 26.6,5.9" fill="none" stroke="#e0e0e0" stroke-width="1.4" stroke-linejoin="round" stroke-linecap="round" />
<polyline points="9,11.8 26,11.8" fill="none" stroke="#e0e0e0" stroke-width="1.4" stroke-linejoin="round" stroke-linecap="round" />
<polyline points="9,17.7 24.8,17.7" fill="none" stroke="#e0e0e0" stroke-width="1.4" stroke-linejoin="round" stroke-linecap="round" />
<polyline points="9,23.6 23.1,23.6" fill="none" stroke="#e0e0e0" stroke-width="1.4" stroke-linejoin="round" stroke-linecap="round" />
<polyline points="9,29.5 20.2,29.5" fill="none" stroke="#e0e0e0" stroke-width="1.4" stroke-linejoin="round" stroke-linecap="round" />
<ellipse cx="0" cy="0" rx="13.8" ry="34.5" fill="#111111" stroke="#111111" stroke-width="1.0" />
<ellipse cx="0.5" cy="0" rx="11.8" ry="29.5" fill="none" stroke="#f80000" stroke-width="2.2" />
<ellipse cx="1" cy="0" rx="9.8" ry="25" fill="#111111" stroke="#111111" stroke-width="0.8" />
<ellipse cx="2" cy="0" rx="6.8" ry="18.5" fill="none" stroke="#f80000" stroke-width="2.4" />
<ellipse cx="2.5" cy="0" rx="4.7" ry="14.5" fill="#111111" stroke="#111111" stroke-width="0.8" />
</g>
<g transform="translate(312.5 478) rotate(-17)">
<path d="M0,-2.6 L17.5,-2.6 A1.2,2.6 0 0 1 17.5,2.6 L0,2.6 A1.2,2.6 0 0 1 0,-2.6 Z" fill="#f2f2f2" stroke="#111111" stroke-width="1.0" stroke-linejoin="round" />
<ellipse cx="0" cy="0" rx="1.2" ry="2.6" fill="#f2f2f2" stroke="#111111" stroke-width="1.0" />
</g>
<g transform="translate(278 481.5) rotate(-130)">
<path d="M1.6,-3.2 L11.2,-3.2 A1.1,3.2 0 0 1 11.2,3.2 L1.6,3.2 A1.1,3.2 0 0 1 1.6,-3.2 Z" fill="#f2f2f2" stroke="#111111" stroke-width="1.1" stroke-linejoin="round" />
<path d="M-1.8,-5.2 L1.8,-5.2 Q2.8,-5.2 2.8,-3.7 L2.8,3.7 Q2.8,5.2 1.8,5.2 L-1.8,5.2 Q-4,5.2 -4,3.2 L-4,-3.2 Q-4,-5.2 -1.8,-5.2 Z" fill="#f2f2f2" stroke="#111111" stroke-width="1.1" stroke-linejoin="round" />
<polyline points="-2.2,-2.3 2.8,-2.3" fill="none" stroke="#111111" stroke-width="0.8" stroke-linejoin="round" stroke-linecap="round" />
<polyline points="-2.2,2.3 2.8,2.3" fill="none" stroke="#111111" stroke-width="0.8" stroke-linejoin="round" stroke-linecap="round" />
</g>
<ellipse cx="259.3" cy="457" rx="3.6" ry="3.6" fill="#111111" stroke="#111111" stroke-width="0.8" />
<ellipse cx="259.5" cy="457" rx="1.4" ry="1.4" fill="#888" stroke="none" stroke-width="0" />
<path d="M240.4,441.3 C241,438.9 242.7,435.8 245.7,433.3 C248.7,430.8 254.2,427.4 258.2,426.2 C262.2,425 265.8,425.3 269.7,426.2 C273.6,427.1 279.1,430 281.3,431.5 C283.5,433 283.6,433.6 283.1,435.1 C282.7,436.6 281.9,438.6 278.6,440.4 C275.3,442.2 268.2,444 263.5,445.8 C258.8,447.6 253.8,450.8 250.2,451.1 C246.7,451.4 243.8,449.1 242.2,447.5 C240.6,445.9 239.8,443.7 240.4,441.3 Z" fill="#ffffff" stroke="#111111" stroke-width="1.2" stroke-linejoin="round" />
<path d="M241.6,439.8 C242.2,437.4 243.9,434.3 246.9,431.8 C249.9,429.3 255.4,425.9 259.4,424.7 C263.4,423.5 267,423.8 270.9,424.7 C274.8,425.6 280.3,428.5 282.5,430 C284.7,431.5 284.8,432.1 284.3,433.6 C283.9,435.1 283.1,437.1 279.8,438.9 C276.5,440.7 269.4,442.5 264.7,444.3 C260,446.1 254.9,449.3 251.4,449.6 C247.9,449.9 245,447.6 243.4,446 C241.8,444.4 241,442.2 241.6,439.8 Z" fill="#2a9de8" stroke="#111111" stroke-width="1.3" stroke-linejoin="round" />
<ellipse cx="247.8" cy="440.7" rx="2.3" ry="2" fill="#111111" stroke="#111111" stroke-width="0.6" transform="rotate(-20 247.8 440.7)" />
<ellipse cx="278" cy="434.5" rx="2.3" ry="2" fill="#111111" stroke="#111111" stroke-width="0.6" transform="rotate(-20 278 434.5)" />
<ellipse cx="263.4" cy="438" rx="4" ry="3" fill="#ffffff" stroke="#111111" stroke-width="1.1" transform="rotate(-20 263.4 438)" />
<path d="M248,421 Q252,417 258,419 L261,429 Q256,433 250,431 Z" fill="#ffffff" stroke="#111111" stroke-width="1.0" stroke-linejoin="round" />
<path d="M227.3,421.1 C227.2,419.3 228.1,418.3 230.9,415.8 C233.7,413.3 240.5,407.9 244.2,406 C247.9,404.1 249.4,403.9 253.1,404.2 C256.8,404.5 263.8,406.5 266.5,407.8 C269.2,409.1 269.3,410.6 269.2,412.2 C269.1,413.8 268.6,415.8 265.6,417.6 C262.6,419.4 255.7,421.1 251.4,422.9 C247.1,424.7 243.1,427.6 239.8,428.2 C236.5,428.8 233.9,427.7 231.8,426.5 C229.7,425.3 227.5,422.9 227.3,421.1 Z" fill="#2aa83a" stroke="#111111" stroke-width="1.3" stroke-linejoin="round" />
<ellipse cx="233.1" cy="419.8" rx="2.4" ry="1.9" fill="#ffffff" stroke="#111111" stroke-width="1.0" transform="rotate(-20 233.1 419.8)" />
<ellipse cx="262.9" cy="413.6" rx="2.4" ry="1.9" fill="#ffffff" stroke="#111111" stroke-width="1.0" transform="rotate(-20 262.9 413.6)" />
<ellipse cx="247.8" cy="416.2" rx="3.8" ry="3" fill="#ffffff" stroke="#111111" stroke-width="1.0" transform="rotate(-20 247.8 416.2)" />
<ellipse cx="226.2" cy="386.9" rx="4.8" ry="4.6" fill="none" stroke="#111111" stroke-width="2.2" />
<ellipse cx="236.3" cy="399.6" rx="4.2" ry="3.2" fill="none" stroke="#111111" stroke-width="2.2" />
<path d="M186,383 L182,372 L185,360 L193,352 L203,351" fill="none" stroke="#111111" stroke-width="10.8" stroke-linejoin="round"/>
<path d="M186,383 L182,372 L185,360 L193,352 L203,351" fill="none" stroke="#2a9de8" stroke-width="8.6" stroke-linejoin="round"/>
<ellipse cx="187.5" cy="383.5" rx="3.8" ry="3.2" fill="#2a9de8" stroke="#111111" stroke-width="1.1" />
<ellipse cx="187.5" cy="383.8" rx="1.8" ry="1.6" fill="#ffffff" stroke="#111111" stroke-width="0.7" />
<g transform="translate(205 352) rotate(56)">
<path d="M0,-5.4 L27,-5.4 A2.4,5.4 0 0 1 27,5.4 L0,5.4 A2.4,5.4 0 0 1 0,-5.4 Z" fill="#2a9de8" stroke="#111111" stroke-width="1.1" stroke-linejoin="round" />
<polyline points="8,-4.6 8,4.6" fill="none" stroke="#111111" stroke-width="0.8" stroke-linejoin="round" stroke-linecap="round" />
<polyline points="12,-4.6 12,4.6" fill="none" stroke="#111111" stroke-width="0.8" stroke-linejoin="round" stroke-linecap="round" />
</g>
<ellipse cx="205" cy="352" rx="4.4" ry="4" fill="#dddddd" stroke="#111111" stroke-width="1.0" />
<ellipse cx="220.2" cy="374.2" rx="3.2" ry="2.8" fill="#ffffff" stroke="#111111" stroke-width="1.0" />
<path d="M230,327 Q230,325 233,325 L242,325 Q245,325 245,329 Q245,333 242,333 L233,333 Q229,333 229,330 Z" fill="#111111" stroke="#111111" stroke-width="0.8" stroke-linejoin="round" />
<ellipse cx="260" cy="328.3" rx="2.8" ry="2.8" fill="#ffffff" stroke="#111111" stroke-width="0.9" />
<path d="M153.6,317 L160,314.6 L167.5,322 L166,327 Z" fill="#e8e8e8" stroke="#111111" stroke-width="0.9" stroke-linejoin="round" />
<path d="M150.5,326 L167,321 L182,319 Q184,320 183.5,327 L182.5,331 Q181,334 176,334 L167,335 L166.5,353 L162,355 L160.5,344 L157,345 L156,355 L151,355.5 L148,345 L148.5,333 Z" fill="#ffeb00" stroke="#111111" stroke-width="1.1" stroke-linejoin="round" />
<ellipse cx="174.5" cy="327" rx="2.6" ry="3.3" fill="#ffffff" stroke="#111111" stroke-width="1.0" />
<polyline points="158,325 157,344" fill="none" stroke="#111111" stroke-width="0.8" stroke-linejoin="round" stroke-linecap="round" />
<polyline points="153,330 158,328" fill="none" stroke="#111111" stroke-width="0.8" stroke-linejoin="round" stroke-linecap="round" />
<path d="M151,330 L155,327 L156,343 L152,345 Z" fill="#ddd" stroke="#111111" stroke-width="0.7" stroke-linejoin="round" />
<g transform="translate(53.4 356) rotate(-12.7)">
<path d="M54,-6.4 L69,-6.4 A2.2,6.4 0 0 1 69,6.4 L54,6.4 A2.2,6.4 0 0 1 54,-6.4 Z" fill="#ffffff" stroke="#111111" stroke-width="1.1" stroke-linejoin="round" />
<path d="M44,-6.2 L54,-6.2 A2.2,6.2 0 0 1 54,6.2 L44,6.2 A2.2,6.2 0 0 1 44,-6.2 Z" fill="#2a9de8" stroke="#111111" stroke-width="1.0" stroke-linejoin="round" />
<path d="M39,-4.4 L44,-4.4 A1.5,4.4 0 0 1 44,4.4 L39,4.4 A1.5,4.4 0 0 1 39,-4.4 Z" fill="#2a9de8" stroke="#111111" stroke-width="1.0" stroke-linejoin="round" />
<path d="M33,-6 L39,-6 A2.1,6 0 0 1 39,6 L33,6 A2.1,6 0 0 1 33,-6 Z" fill="#2a9de8" stroke="#111111" stroke-width="1.0" stroke-linejoin="round" />
<path d="M28,-4.4 L33,-4.4 A1.5,4.4 0 0 1 33,4.4 L28,4.4 A1.5,4.4 0 0 1 28,-4.4 Z" fill="#2a9de8" stroke="#111111" stroke-width="1.0" stroke-linejoin="round" />
<path d="M0,-5 L28,-5 A1.9,5 0 0 1 28,5 L0,5 A1.9,5 0 0 1 0,-5 Z" fill="#2a9de8" stroke="#111111" stroke-width="1.1" stroke-linejoin="round" />
<ellipse cx="0" cy="0" rx="1.9" ry="5" fill="#ffffff" stroke="#111111" stroke-width="1.1" />
</g>
<g transform="translate(156 201) rotate(-15)">
<path d="M1.6,-3.5 L19.6,-3.5 A1.2,3.5 0 0 1 19.6,3.5 L1.6,3.5 A1.2,3.5 0 0 1 1.6,-3.5 Z" fill="#f2f2f2" stroke="#111111" stroke-width="1.1" stroke-linejoin="round" />
<path d="M-1.8,-6.4 L1.8,-6.4 Q2.8,-6.4 2.8,-4.9 L2.8,4.9 Q2.8,6.4 1.8,6.4 L-1.8,6.4 Q-4,6.4 -4,4.4 L-4,-4.4 Q-4,-6.4 -1.8,-6.4 Z" fill="#f2f2f2" stroke="#111111" stroke-width="1.1" stroke-linejoin="round" />
<polyline points="-2.2,-2.9 2.8,-2.9" fill="none" stroke="#111111" stroke-width="0.8" stroke-linejoin="round" stroke-linecap="round" />
<polyline points="-2.2,2.9 2.8,2.9" fill="none" stroke="#111111" stroke-width="0.8" stroke-linejoin="round" stroke-linecap="round" />
</g>
<ellipse cx="202" cy="190.2" rx="3.4" ry="5.3" fill="#111111" stroke="#111111" stroke-width="0.8" transform="rotate(-10 202 190.2)" />
<g transform="translate(141.5 291.2) rotate(-15)">
<path d="M1.5,-3.4 L11.5,-3.4 A1.2,3.4 0 0 1 11.5,3.4 L1.5,3.4 A1.2,3.4 0 0 1 1.5,-3.4 Z" fill="#f2f2f2" stroke="#111111" stroke-width="1.1" stroke-linejoin="round" />
<path d="M-1.5,-5.5 L1.5,-5.5 Q2.5,-5.5 2.5,-4 L2.5,4 Q2.5,5.5 1.5,5.5 L-1.5,5.5 Q-3.7,5.5 -3.7,3.5 L-3.7,-3.5 Q-3.7,-5.5 -1.5,-5.5 Z" fill="#f2f2f2" stroke="#111111" stroke-width="1.1" stroke-linejoin="round" />
<polyline points="-2,-2.5 2.5,-2.5" fill="none" stroke="#111111" stroke-width="0.8" stroke-linejoin="round" stroke-linecap="round" />
<polyline points="-2,2.5 2.5,2.5" fill="none" stroke="#111111" stroke-width="0.8" stroke-linejoin="round" stroke-linecap="round" />
</g>
<ellipse cx="171" cy="288.7" rx="6.3" ry="12" fill="#ffffff" stroke="#111111" stroke-width="1.3" transform="rotate(-22 171 288.7)" />
<ellipse cx="168.5" cy="283.5" rx="1.6" ry="2.2" fill="#111111" stroke="#111111" stroke-width="0.3" />
<ellipse cx="173.8" cy="294.3" rx="1.8" ry="2.4" fill="#111111" stroke="#111111" stroke-width="0.3" />
<path d="M185,279 Q186,272 190,274 Q194,277 193.5,287 Q193,292 189,290.5 Q184.5,287 185,279 Z" fill="#ffffff" stroke="#111111" stroke-width="1.4" stroke-linejoin="round" />
<ellipse cx="188.2" cy="280" rx="1.3" ry="2.2" fill="#111111" stroke="#111111" stroke-width="0.3" />
<polyline points="130.7,166.5 149.3,166.5" fill="none" stroke="#222222" stroke-width="1.3" stroke-linejoin="round" stroke-linecap="round" />
<polyline points="149.3,166.5 163.4,195" fill="none" stroke="#222222" stroke-width="1.1" stroke-linejoin="round" stroke-linecap="round" />
<polyline points="165,155.4 183,155.4" fill="none" stroke="#222222" stroke-width="1.3" stroke-linejoin="round" stroke-linecap="round" />
<polyline points="183,155.4 200,184.5" fill="none" stroke="#222222" stroke-width="1.1" stroke-linejoin="round" stroke-linecap="round" />
<polyline points="208,149 225.5,149" fill="none" stroke="#222222" stroke-width="1.3" stroke-linejoin="round" stroke-linecap="round" />
<polyline points="225.5,149 252,171" fill="none" stroke="#222222" stroke-width="1.1" stroke-linejoin="round" stroke-linecap="round" />
<polyline points="256,141 276,141" fill="none" stroke="#222222" stroke-width="1.3" stroke-linejoin="round" stroke-linecap="round" />
<polyline points="276,141 327,197" fill="none" stroke="#222222" stroke-width="1.1" stroke-linejoin="round" stroke-linecap="round" />
<polyline points="301,136 318.6,136" fill="none" stroke="#222222" stroke-width="1.3" stroke-linejoin="round" stroke-linecap="round" />
<polyline points="318.6,136 351.3,195" fill="none" stroke="#222222" stroke-width="1.1" stroke-linejoin="round" stroke-linecap="round" />
<polyline points="338.2,130.4 355.7,130.4" fill="none" stroke="#222222" stroke-width="1.3" stroke-linejoin="round" stroke-linecap="round" />
<polyline points="355.7,130.4 378.7,188" fill="none" stroke="#222222" stroke-width="1.1" stroke-linejoin="round" stroke-linecap="round" />
<polyline points="374.3,124.3 392.9,124.3" fill="none" stroke="#222222" stroke-width="1.3" stroke-linejoin="round" stroke-linecap="round" />
<polyline points="392.9,124.3 407,182" fill="none" stroke="#222222" stroke-width="1.1" stroke-linejoin="round" stroke-linecap="round" />
<polyline points="428.9,119.5 455.1,119.5" fill="none" stroke="#222222" stroke-width="1.3" stroke-linejoin="round" stroke-linecap="round" />
<polyline points="455.1,119.5 470.4,160" fill="none" stroke="#222222" stroke-width="1.1" stroke-linejoin="round" stroke-linecap="round" />
<polyline points="481,112.5 498.8,112.5" fill="none" stroke="#222222" stroke-width="1.3" stroke-linejoin="round" stroke-linecap="round" />
<polyline points="498.8,112.5 521,156" fill="none" stroke="#222222" stroke-width="1.1" stroke-linejoin="round" stroke-linecap="round" />
<polyline points="528,108 547,108" fill="none" stroke="#222222" stroke-width="1.3" stroke-linejoin="round" stroke-linecap="round" />
<polyline points="547,108 557.8,147" fill="none" stroke="#222222" stroke-width="1.1" stroke-linejoin="round" stroke-linecap="round" />
<polyline points="587.5,100.3 604.7,100.3" fill="none" stroke="#222222" stroke-width="1.3" stroke-linejoin="round" stroke-linecap="round" />
<polyline points="587.5,100.3 589,140" fill="none" stroke="#222222" stroke-width="1.1" stroke-linejoin="round" stroke-linecap="round" />
<polyline points="636,91.3 653,91.3" fill="none" stroke="#222222" stroke-width="1.3" stroke-linejoin="round" stroke-linecap="round" />
<polyline points="636,91.3 617.2,132" fill="none" stroke="#222222" stroke-width="1.1" stroke-linejoin="round" stroke-linecap="round" />
<polyline points="778,153.7 800,153.7" fill="none" stroke="#222222" stroke-width="1.3" stroke-linejoin="round" stroke-linecap="round" />
<polyline points="778,153.7 751.6,126.2" fill="none" stroke="#222222" stroke-width="1.1" stroke-linejoin="round" stroke-linecap="round" />
<polyline points="727,183.9 749,183.9" fill="none" stroke="#222222" stroke-width="1.3" stroke-linejoin="round" stroke-linecap="round" />
<polyline points="727,183.9 678,140.3" fill="none" stroke="#222222" stroke-width="1.1" stroke-linejoin="round" stroke-linecap="round" />
<polyline points="609.4,216.6 631.2,216.6" fill="none" stroke="#222222" stroke-width="1.3" stroke-linejoin="round" stroke-linecap="round" />
<polyline points="609.4,216.6 593.7,204.4" fill="none" stroke="#222222" stroke-width="1.1" stroke-linejoin="round" stroke-linecap="round" />
<polyline points="563.2,234.8 585.7,234.8" fill="none" stroke="#222222" stroke-width="1.3" stroke-linejoin="round" stroke-linecap="round" />
<polyline points="563.2,234.8 546,216" fill="none" stroke="#222222" stroke-width="1.1" stroke-linejoin="round" stroke-linecap="round" />
<polyline points="695,218.3 709.5,218.3" fill="none" stroke="#222222" stroke-width="1.3" stroke-linejoin="round" stroke-linecap="round" />
<polyline points="695,218.3 675.5,233.8" fill="none" stroke="#222222" stroke-width="1.1" stroke-linejoin="round" stroke-linecap="round" />
<polyline points="676,262 701,262" fill="none" stroke="#222222" stroke-width="1.3" stroke-linejoin="round" stroke-linecap="round" />
<polyline points="676,262 633,246.4" fill="none" stroke="#222222" stroke-width="1.1" stroke-linejoin="round" stroke-linecap="round" />
<polyline points="618,278 637.9,278" fill="none" stroke="#222222" stroke-width="1.3" stroke-linejoin="round" stroke-linecap="round" />
<polyline points="618,278 607,264.7" fill="none" stroke="#222222" stroke-width="1.1" stroke-linejoin="round" stroke-linecap="round" />
<polyline points="817,224.9 843.7,224.9" fill="none" stroke="#222222" stroke-width="1.3" stroke-linejoin="round" stroke-linecap="round" />
<polyline points="817,224.9 774,269.7" fill="none" stroke="#222222" stroke-width="1.1" stroke-linejoin="round" stroke-linecap="round" />
<polyline points="95.4,255.7 111.6,255.7" fill="none" stroke="#222222" stroke-width="1.3" stroke-linejoin="round" stroke-linecap="round" />
<polyline points="111.6,255.7 143.2,285.2" fill="none" stroke="#222222" stroke-width="1.1" stroke-linejoin="round" stroke-linecap="round" />
<polyline points="128.5,247.6 145.3,247.6" fill="none" stroke="#222222" stroke-width="1.3" stroke-linejoin="round" stroke-linecap="round" />
<polyline points="145.3,247.6 165.7,277.5" fill="none" stroke="#222222" stroke-width="1.1" stroke-linejoin="round" stroke-linecap="round" />
<polyline points="158,240.3 174.8,240.3" fill="none" stroke="#222222" stroke-width="1.3" stroke-linejoin="round" stroke-linecap="round" />
<polyline points="174.8,240.3 187.4,274" fill="none" stroke="#222222" stroke-width="1.1" stroke-linejoin="round" stroke-linecap="round" />
<polyline points="359.6,279.2 380.6,279.2" fill="none" stroke="#222222" stroke-width="1.3" stroke-linejoin="round" stroke-linecap="round" />
<polyline points="359.6,279.2 321.7,241.4" fill="none" stroke="#222222" stroke-width="1.1" stroke-linejoin="round" stroke-linecap="round" />
<polyline points="400.4,306.7 425.7,306.7" fill="none" stroke="#222222" stroke-width="1.3" stroke-linejoin="round" stroke-linecap="round" />
<polyline points="425.7,306.7 431.3,266" fill="none" stroke="#222222" stroke-width="1.1" stroke-linejoin="round" stroke-linecap="round" />
<polyline points="61.8,311.2 80.6,311.2" fill="none" stroke="#222222" stroke-width="1.3" stroke-linejoin="round" stroke-linecap="round" />
<polyline points="80.6,311.2 107,340.9" fill="none" stroke="#222222" stroke-width="1.1" stroke-linejoin="round" stroke-linecap="round" />
<polyline points="105.5,310.6 124.3,310.6" fill="none" stroke="#222222" stroke-width="1.3" stroke-linejoin="round" stroke-linecap="round" />
<polyline points="124.3,310.6 149.2,337.7" fill="none" stroke="#222222" stroke-width="1.1" stroke-linejoin="round" stroke-linecap="round" />
<polyline points="200.7,337.7 227.3,337.7" fill="none" stroke="#222222" stroke-width="1.3" stroke-linejoin="round" stroke-linecap="round" />
<polyline points="227.3,337.7 233,331" fill="none" stroke="#222222" stroke-width="1.1" stroke-linejoin="round" stroke-linecap="round" />
<polyline points="233.5,369 260,369" fill="none" stroke="#222222" stroke-width="1.3" stroke-linejoin="round" stroke-linecap="round" />
<polyline points="260,369 260,331" fill="none" stroke="#222222" stroke-width="1.1" stroke-linejoin="round" stroke-linecap="round" />
<polyline points="343,328.6 364.5,328.6" fill="none" stroke="#222222" stroke-width="1.3" stroke-linejoin="round" stroke-linecap="round" />
<polyline points="343,328.6 318.3,316.8" fill="none" stroke="#222222" stroke-width="1.1" stroke-linejoin="round" stroke-linecap="round" />
<polyline points="116.5,369.6 136.8,369.6" fill="none" stroke="#222222" stroke-width="1.3" stroke-linejoin="round" stroke-linecap="round" />
<polyline points="136.8,369.6 177.3,379.3" fill="none" stroke="#222222" stroke-width="1.1" stroke-linejoin="round" stroke-linecap="round" />
<polyline points="121.1,404.2 141.4,404.2" fill="none" stroke="#222222" stroke-width="1.3" stroke-linejoin="round" stroke-linecap="round" />
<polyline points="141.4,404.2 221,389.2" fill="none" stroke="#222222" stroke-width="1.1" stroke-linejoin="round" stroke-linecap="round" />
<polyline points="132,429.2 152.4,429.2" fill="none" stroke="#222222" stroke-width="1.3" stroke-linejoin="round" stroke-linecap="round" />
<polyline points="152.4,429.2 231,401" fill="none" stroke="#222222" stroke-width="1.1" stroke-linejoin="round" stroke-linecap="round" />
<polyline points="146,454.8 168,454.8" fill="none" stroke="#222222" stroke-width="1.3" stroke-linejoin="round" stroke-linecap="round" />
<polyline points="168,454.8 230.4,425.1" fill="none" stroke="#222222" stroke-width="1.1" stroke-linejoin="round" stroke-linecap="round" />
<polyline points="156.8,479.5 177.3,479.5" fill="none" stroke="#222222" stroke-width="1.3" stroke-linejoin="round" stroke-linecap="round" />
<polyline points="177.3,479.5 248,440" fill="none" stroke="#222222" stroke-width="1.1" stroke-linejoin="round" stroke-linecap="round" />
<polyline points="165,508.7 186.9,508.7" fill="none" stroke="#222222" stroke-width="1.3" stroke-linejoin="round" stroke-linecap="round" />
<polyline points="186.9,508.7 256.5,459.6" fill="none" stroke="#222222" stroke-width="1.1" stroke-linejoin="round" stroke-linecap="round" />
<polyline points="226.4,510.6 248.3,510.6" fill="none" stroke="#222222" stroke-width="1.3" stroke-linejoin="round" stroke-linecap="round" />
<polyline points="248.3,510.6 268.8,477.3" fill="none" stroke="#222222" stroke-width="1.1" stroke-linejoin="round" stroke-linecap="round" />
<polyline points="361.6,486.3 383.4,486.3" fill="none" stroke="#222222" stroke-width="1.3" stroke-linejoin="round" stroke-linecap="round" />
<polyline points="361.6,486.3 327.5,476" fill="none" stroke="#222222" stroke-width="1.1" stroke-linejoin="round" stroke-linecap="round" />
<polyline points="268.4,398 295,398" fill="none" stroke="#222222" stroke-width="1.3" stroke-linejoin="round" stroke-linecap="round" />
<polyline points="295,398 319,377" fill="none" stroke="#222222" stroke-width="1.1" stroke-linejoin="round" stroke-linecap="round" />
<polyline points="357,452.8 385,452.8" fill="none" stroke="#222222" stroke-width="1.3" stroke-linejoin="round" stroke-linecap="round" />
<polyline points="357,452.8 324.6,424.7" fill="none" stroke="#222222" stroke-width="1.1" stroke-linejoin="round" stroke-linecap="round" />
<polyline points="373.8,420.4 394.8,420.4" fill="none" stroke="#222222" stroke-width="1.3" stroke-linejoin="round" stroke-linecap="round" />
<polyline points="394.8,420.4 399,393.8" fill="none" stroke="#222222" stroke-width="1.1" stroke-linejoin="round" stroke-linecap="round" />
<polyline points="432.5,449.6 454.8,449.6" fill="none" stroke="#222222" stroke-width="1.3" stroke-linejoin="round" stroke-linecap="round" />
<polyline points="454.8,449.6 481.2,411" fill="none" stroke="#222222" stroke-width="1.1" stroke-linejoin="round" stroke-linecap="round" />
<polyline points="481.2,449.6 503.5,449.6" fill="none" stroke="#222222" stroke-width="1.3" stroke-linejoin="round" stroke-linecap="round" />
<polyline points="503.5,449.6 513.7,415.1" fill="none" stroke="#222222" stroke-width="1.1" stroke-linejoin="round" stroke-linecap="round" />
<polyline points="560.3,407 580.6,407" fill="none" stroke="#222222" stroke-width="1.3" stroke-linejoin="round" stroke-linecap="round" />
<polyline points="580.6,407 590.8,344" fill="none" stroke="#222222" stroke-width="1.1" stroke-linejoin="round" stroke-linecap="round" />
<polyline points="615.5,378.5 635.7,378.5" fill="none" stroke="#222222" stroke-width="1.3" stroke-linejoin="round" stroke-linecap="round" />
<polyline points="635.7,378.5 678.7,406" fill="none" stroke="#222222" stroke-width="1.1" stroke-linejoin="round" stroke-linecap="round" />
<polyline points="642.8,357.5 668.5,357.5" fill="none" stroke="#222222" stroke-width="1.3" stroke-linejoin="round" stroke-linecap="round" />
<polyline points="668.5,357.5 692,404" fill="none" stroke="#222222" stroke-width="1.1" stroke-linejoin="round" stroke-linecap="round" />
<polyline points="677.1,344.2 699.7,344.2" fill="none" stroke="#222222" stroke-width="1.3" stroke-linejoin="round" stroke-linecap="round" />
<polyline points="699.7,344.2 712.2,400" fill="none" stroke="#222222" stroke-width="1.1" stroke-linejoin="round" stroke-linecap="round" />
<polyline points="150,622 169,622" fill="none" stroke="#222222" stroke-width="1.3" stroke-linejoin="round" stroke-linecap="round" />
<polyline points="169,622 186.9,579.7" fill="none" stroke="#222222" stroke-width="1.1" stroke-linejoin="round" stroke-linecap="round" />
<polyline points="209.5,611.6 231.4,611.6" fill="none" stroke="#222222" stroke-width="1.3" stroke-linejoin="round" stroke-linecap="round" />
<polyline points="231.4,611.6 225,564.7" fill="none" stroke="#222222" stroke-width="1.1" stroke-linejoin="round" stroke-linecap="round" />
<polyline points="275,602.3 296,602.3" fill="none" stroke="#222222" stroke-width="1.3" stroke-linejoin="round" stroke-linecap="round" />
<polyline points="275,602.3 260.6,566" fill="none" stroke="#222222" stroke-width="1.1" stroke-linejoin="round" stroke-linecap="round" />
<polyline points="337,581.6 356,581.6" fill="none" stroke="#222222" stroke-width="1.3" stroke-linejoin="round" stroke-linecap="round" />
<polyline points="337,581.6 297.4,555.1" fill="none" stroke="#222222" stroke-width="1.1" stroke-linejoin="round" stroke-linecap="round" />
<polyline points="409.2,576 430.3,576" fill="none" stroke="#222222" stroke-width="1.3" stroke-linejoin="round" stroke-linecap="round" />
<polyline points="409.2,576 375.2,526.7" fill="none" stroke="#222222" stroke-width="1.1" stroke-linejoin="round" stroke-linecap="round" />
<polyline points="467.8,576 490,576" fill="none" stroke="#222222" stroke-width="1.3" stroke-linejoin="round" stroke-linecap="round" />
<polyline points="490,576 521.7,504.4" fill="none" stroke="#222222" stroke-width="1.1" stroke-linejoin="round" stroke-linecap="round" />
<polyline points="521.2,575.5 544,575.5" fill="none" stroke="#222222" stroke-width="1.3" stroke-linejoin="round" stroke-linecap="round" />
<polyline points="544,575.5 554.5,496.2" fill="none" stroke="#222222" stroke-width="1.1" stroke-linejoin="round" stroke-linecap="round" />
<polyline points="583.3,575.1 606,575.1" fill="none" stroke="#222222" stroke-width="1.3" stroke-linejoin="round" stroke-linecap="round" />
<polyline points="583.3,575.1 576.8,489.2" fill="none" stroke="#222222" stroke-width="1.1" stroke-linejoin="round" stroke-linecap="round" />
<polyline points="626.5,572.9 649.7,572.9" fill="none" stroke="#222222" stroke-width="1.3" stroke-linejoin="round" stroke-linecap="round" />
<polyline points="626.5,572.9 615,488" fill="none" stroke="#222222" stroke-width="1.1" stroke-linejoin="round" stroke-linecap="round" />
<polyline points="671.6,572.9 693.5,572.9" fill="none" stroke="#222222" stroke-width="1.3" stroke-linejoin="round" stroke-linecap="round" />
<polyline points="671.6,572.9 659,497.8" fill="none" stroke="#222222" stroke-width="1.1" stroke-linejoin="round" stroke-linecap="round" />
<polyline points="713.4,573.2 735.3,573.2" fill="none" stroke="#222222" stroke-width="1.3" stroke-linejoin="round" stroke-linecap="round" />
<polyline points="713.4,573.2 682.9,484.7" fill="none" stroke="#222222" stroke-width="1.1" stroke-linejoin="round" stroke-linecap="round" />
<polyline points="766,572.9 787.8,572.9" fill="none" stroke="#222222" stroke-width="1.3" stroke-linejoin="round" stroke-linecap="round" />
<polyline points="766,572.9 697.9,486.6" fill="none" stroke="#222222" stroke-width="1.1" stroke-linejoin="round" stroke-linecap="round" />
<polyline points="826.1,572.3 847.4,572.3" fill="none" stroke="#222222" stroke-width="1.3" stroke-linejoin="round" stroke-linecap="round" />
<polyline points="826.1,572.3 737,479" fill="none" stroke="#222222" stroke-width="1.1" stroke-linejoin="round" stroke-linecap="round" />
<polyline points="897.6,573 919.8,573" fill="none" stroke="#222222" stroke-width="1.3" stroke-linejoin="round" stroke-linecap="round" />
<polyline points="897.6,573 872.4,488.9" fill="none" stroke="#222222" stroke-width="1.1" stroke-linejoin="round" stroke-linecap="round" />
<text x="0" y="0" transform="translate(133.1 164.8) scale(0.88 1)" class="lb">4</text>
<text x="0" y="0" transform="translate(170.1 152.8) scale(0.88 1)" class="lb">5</text>
<text x="0" y="0" transform="translate(212.1 146.8) scale(0.88 1)" class="lb">6</text>
<text x="0" y="0" transform="translate(262.6 139.3) scale(0.88 1)" class="lb">7</text>
<text x="0" y="0" transform="translate(306.1 134.3) scale(0.88 1)" class="lb">8</text>
<text x="0" y="0" transform="translate(343.1 128.8) scale(0.88 1)" class="lb">9</text>
<text x="0" y="0" transform="translate(379.6 123.3) scale(0.88 1)" class="lb">8</text>
<path d="M583,0 L763,0 L763,1466 L640,1466 Q600,1370 510,1285 Q420,1200 223,1110 L223,980 Q330,1020 420,1075 Q520,1135 583,1200 Z" transform="translate(432.7 117.8) scale(0.006875 -0.007812)" fill="#111" stroke="#111" stroke-width="0.45" vector-effect="non-scaling-stroke"/>
<text x="0" y="0" transform="translate(440.5 117.8) scale(0.88 1)" class="lb">0</text>
<text x="0" y="0" transform="translate(485.6 111.3) scale(0.88 1)" class="lb">8</text>
<text x="0" y="0" transform="translate(532.8 106.3) scale(0.88 1)" class="lb">9</text>
<text x="0" y="0" transform="translate(593.7 99.3) scale(0.88 1)" class="lb">8</text>
<text x="0" y="0" transform="translate(643.7 89.8) scale(0.88 1)" class="lb">7</text>
<path d="M583,0 L763,0 L763,1466 L640,1466 Q600,1370 510,1285 Q420,1200 223,1110 L223,980 Q330,1020 420,1075 Q520,1135 583,1200 Z" transform="translate(782 152.3) scale(0.006875 -0.007812)" fill="#111" stroke="#111" stroke-width="0.45" vector-effect="non-scaling-stroke"/>
<text x="0" y="0" transform="translate(789.8 152.3) scale(0.88 1)" class="lb">2</text>
<path d="M583,0 L763,0 L763,1466 L640,1466 Q600,1370 510,1285 Q420,1200 223,1110 L223,980 Q330,1020 420,1075 Q520,1135 583,1200 Z" transform="translate(730 181.3) scale(0.006875 -0.007812)" fill="#111" stroke="#111" stroke-width="0.45" vector-effect="non-scaling-stroke"/>
<path d="M583,0 L763,0 L763,1466 L640,1466 Q600,1370 510,1285 Q420,1200 223,1110 L223,980 Q330,1020 420,1075 Q520,1135 583,1200 Z" transform="translate(737.8 181.3) scale(0.006875 -0.007812)" fill="#111" stroke="#111" stroke-width="0.45" vector-effect="non-scaling-stroke"/>
<text x="0" y="0" transform="translate(614.2 215.3) scale(0.88 1)" class="lb">3</text>
<text x="0" y="0" transform="translate(622 215.3) scale(0.88 1)" class="lb">3</text>
<text x="0" y="0" transform="translate(569 233.3) scale(0.88 1)" class="lb">3</text>
<text x="0" y="0" transform="translate(576.8 233.3) scale(0.88 1)" class="lb">2</text>
<path d="M583,0 L763,0 L763,1466 L640,1466 Q600,1370 510,1285 Q420,1200 223,1110 L223,980 Q330,1020 420,1075 Q520,1135 583,1200 Z" transform="translate(700.1 216.9) scale(0.006875 -0.007812)" fill="#111" stroke="#111" stroke-width="0.45" vector-effect="non-scaling-stroke"/>
<text x="0" y="0" transform="translate(684 260.7) scale(0.88 1)" class="lb">2</text>
<text x="0" y="0" transform="translate(691.8 260.7) scale(0.88 1)" class="lb">2</text>
<text x="0" y="0" transform="translate(622.2 276.6) scale(0.88 1)" class="lb">3</text>
<text x="0" y="0" transform="translate(630 276.6) scale(0.88 1)" class="lb">4</text>
<text x="0" y="0" transform="translate(825.2 223.5) scale(0.88 1)" class="lb">3</text>
<text x="0" y="0" transform="translate(833 223.5) scale(0.88 1)" class="lb">6</text>
<path d="M583,0 L763,0 L763,1466 L640,1466 Q600,1370 510,1285 Q420,1200 223,1110 L223,980 Q330,1020 420,1075 Q520,1135 583,1200 Z" transform="translate(99.3 253.3) scale(0.006875 -0.007812)" fill="#111" stroke="#111" stroke-width="0.45" vector-effect="non-scaling-stroke"/>
<text x="0" y="0" transform="translate(133.6 245.5) scale(0.88 1)" class="lb">2</text>
<text x="0" y="0" transform="translate(162.5 237.8) scale(0.88 1)" class="lb">3</text>
<text x="0" y="0" transform="translate(363.7 275.3) scale(0.88 1)" class="lb">5</text>
<text x="0" y="0" transform="translate(371.5 275.3) scale(0.88 1)" class="lb">0</text>
<text x="0" y="0" transform="translate(404.6 304.2) scale(0.88 1)" class="lb">2</text>
<text x="0" y="0" transform="translate(412.4 304.2) scale(0.88 1)" class="lb">9</text>
<path d="M583,0 L763,0 L763,1466 L640,1466 Q600,1370 510,1285 Q420,1200 223,1110 L223,980 Q330,1020 420,1075 Q520,1135 583,1200 Z" transform="translate(63.4 310) scale(0.006875 -0.007812)" fill="#111" stroke="#111" stroke-width="0.45" vector-effect="non-scaling-stroke"/>
<text x="0" y="0" transform="translate(71.2 310) scale(0.88 1)" class="lb">3</text>
<path d="M583,0 L763,0 L763,1466 L640,1466 Q600,1370 510,1285 Q420,1200 223,1110 L223,980 Q330,1020 420,1075 Q520,1135 583,1200 Z" transform="translate(106.7 309) scale(0.006875 -0.007812)" fill="#111" stroke="#111" stroke-width="0.45" vector-effect="non-scaling-stroke"/>
<text x="0" y="0" transform="translate(114.5 309) scale(0.88 1)" class="lb">4</text>
<path d="M583,0 L763,0 L763,1466 L640,1466 Q600,1370 510,1285 Q420,1200 223,1110 L223,980 Q330,1020 420,1075 Q520,1135 583,1200 Z" transform="translate(201.5 335.9) scale(0.006875 -0.007812)" fill="#111" stroke="#111" stroke-width="0.45" vector-effect="non-scaling-stroke"/>
<text x="0" y="0" transform="translate(209.3 335.9) scale(0.88 1)" class="lb">5</text>
<path d="M583,0 L763,0 L763,1466 L640,1466 Q600,1370 510,1285 Q420,1200 223,1110 L223,980 Q330,1020 420,1075 Q520,1135 583,1200 Z" transform="translate(236.7 367.7) scale(0.006875 -0.007812)" fill="#111" stroke="#111" stroke-width="0.45" vector-effect="non-scaling-stroke"/>
<text x="0" y="0" transform="translate(244.5 367.7) scale(0.88 1)" class="lb">6</text>
<text x="0" y="0" transform="translate(348.4 327.3) scale(0.88 1)" class="lb">2</text>
<text x="0" y="0" transform="translate(356.2 327.3) scale(0.88 1)" class="lb">6</text>
<path d="M583,0 L763,0 L763,1466 L640,1466 Q600,1370 510,1285 Q420,1200 223,1110 L223,980 Q330,1020 420,1075 Q520,1135 583,1200 Z" transform="translate(117.6 367.7) scale(0.006875 -0.007812)" fill="#111" stroke="#111" stroke-width="0.45" vector-effect="non-scaling-stroke"/>
<text x="0" y="0" transform="translate(125.4 367.7) scale(0.88 1)" class="lb">7</text>
<path d="M583,0 L763,0 L763,1466 L640,1466 Q600,1370 510,1285 Q420,1200 223,1110 L223,980 Q330,1020 420,1075 Q520,1135 583,1200 Z" transform="translate(122.7 402) scale(0.006875 -0.007812)" fill="#111" stroke="#111" stroke-width="0.45" vector-effect="non-scaling-stroke"/>
<text x="0" y="0" transform="translate(130.5 402) scale(0.88 1)" class="lb">8</text>
<path d="M583,0 L763,0 L763,1466 L640,1466 Q600,1370 510,1285 Q420,1200 223,1110 L223,980 Q330,1020 420,1075 Q520,1135 583,1200 Z" transform="translate(132.4 426.3) scale(0.006875 -0.007812)" fill="#111" stroke="#111" stroke-width="0.45" vector-effect="non-scaling-stroke"/>
<text x="0" y="0" transform="translate(140.2 426.3) scale(0.88 1)" class="lb">9</text>
<text x="0" y="0" transform="translate(147.2 453.5) scale(0.88 1)" class="lb">2</text>
<text x="0" y="0" transform="translate(155 453.5) scale(0.88 1)" class="lb">0</text>
<text x="0" y="0" transform="translate(157.2 477.6) scale(0.88 1)" class="lb">2</text>
<path d="M583,0 L763,0 L763,1466 L640,1466 Q600,1370 510,1285 Q420,1200 223,1110 L223,980 Q330,1020 420,1075 Q520,1135 583,1200 Z" transform="translate(165 477.6) scale(0.006875 -0.007812)" fill="#111" stroke="#111" stroke-width="0.45" vector-effect="non-scaling-stroke"/>
<text x="0" y="0" transform="translate(168.1 507.6) scale(0.88 1)" class="lb">2</text>
<text x="0" y="0" transform="translate(175.9 507.6) scale(0.88 1)" class="lb">2</text>
<text x="0" y="0" transform="translate(226.8 509) scale(0.88 1)" class="lb">2</text>
<text x="0" y="0" transform="translate(234.6 509) scale(0.88 1)" class="lb">3</text>
<text x="0" y="0" transform="translate(364.7 484.4) scale(0.88 1)" class="lb">2</text>
<text x="0" y="0" transform="translate(372.5 484.4) scale(0.88 1)" class="lb">4</text>
<text x="0" y="0" transform="translate(267.1 396) scale(0.88 1)" class="lb">2</text>
<text x="0" y="0" transform="translate(274.9 396) scale(0.88 1)" class="lb">7</text>
<text x="0" y="0" transform="translate(368 451.1) scale(0.88 1)" class="lb">2</text>
<text x="0" y="0" transform="translate(375.8 451.1) scale(0.88 1)" class="lb">5</text>
<text x="0" y="0" transform="translate(374.7 418.5) scale(0.88 1)" class="lb">2</text>
<text x="0" y="0" transform="translate(382.5 418.5) scale(0.88 1)" class="lb">8</text>
<text x="0" y="0" transform="translate(435.8 448.7) scale(0.88 1)" class="lb">3</text>
<text x="0" y="0" transform="translate(443.6 448.7) scale(0.88 1)" class="lb">0</text>
<text x="0" y="0" transform="translate(484.5 448.7) scale(0.88 1)" class="lb">3</text>
<path d="M583,0 L763,0 L763,1466 L640,1466 Q600,1370 510,1285 Q420,1200 223,1110 L223,980 Q330,1020 420,1075 Q520,1135 583,1200 Z" transform="translate(492.3 448.7) scale(0.006875 -0.007812)" fill="#111" stroke="#111" stroke-width="0.45" vector-effect="non-scaling-stroke"/>
<text x="0" y="0" transform="translate(563.7 405.3) scale(0.88 1)" class="lb">3</text>
<text x="0" y="0" transform="translate(571.5 405.3) scale(0.88 1)" class="lb">5</text>
<text x="0" y="0" transform="translate(617.8 375.7) scale(0.88 1)" class="lb">4</text>
<text x="0" y="0" transform="translate(625.6 375.7) scale(0.88 1)" class="lb">8</text>
<text x="0" y="0" transform="translate(642.4 354.6) scale(0.88 1)" class="lb">2</text>
<text x="0" y="0" transform="translate(650.2 354.6) scale(0.88 1)" class="lb">2</text>
<text x="0" y="0" transform="translate(680.2 342.9) scale(0.88 1)" class="lb">2</text>
<text x="0" y="0" transform="translate(688 342.9) scale(0.88 1)" class="lb">3</text>
<text x="0" y="0" transform="translate(149.7 620.9) scale(0.88 1)" class="lb">3</text>
<text x="0" y="0" transform="translate(157.5 620.9) scale(0.88 1)" class="lb">7</text>
<text x="0" y="0" transform="translate(209.7 610) scale(0.88 1)" class="lb">3</text>
<text x="0" y="0" transform="translate(217.5 610) scale(0.88 1)" class="lb">8</text>
<text x="0" y="0" transform="translate(278.7 600.5) scale(0.88 1)" class="lb">3</text>
<text x="0" y="0" transform="translate(286.5 600.5) scale(0.88 1)" class="lb">9</text>
<text x="0" y="0" transform="translate(340.1 580) scale(0.88 1)" class="lb">4</text>
<text x="0" y="0" transform="translate(347.9 580) scale(0.88 1)" class="lb">0</text>
<text x="0" y="0" transform="translate(413.9 574.3) scale(0.88 1)" class="lb">4</text>
<path d="M583,0 L763,0 L763,1466 L640,1466 Q600,1370 510,1285 Q420,1200 223,1110 L223,980 Q330,1020 420,1075 Q520,1135 583,1200 Z" transform="translate(421.7 574.3) scale(0.006875 -0.007812)" fill="#111" stroke="#111" stroke-width="0.45" vector-effect="non-scaling-stroke"/>
<text x="0" y="0" transform="translate(470.2 574.3) scale(0.88 1)" class="lb">4</text>
<text x="0" y="0" transform="translate(478 574.3) scale(0.88 1)" class="lb">2</text>
<text x="0" y="0" transform="translate(523 573.9) scale(0.88 1)" class="lb">4</text>
<text x="0" y="0" transform="translate(530.8 573.9) scale(0.88 1)" class="lb">3</text>
<text x="0" y="0" transform="translate(588.2 573.2) scale(0.88 1)" class="lb">4</text>
<text x="0" y="0" transform="translate(596 573.2) scale(0.88 1)" class="lb">4</text>
<text x="0" y="0" transform="translate(632.3 571.3) scale(0.88 1)" class="lb">4</text>
<text x="0" y="0" transform="translate(640.1 571.3) scale(0.88 1)" class="lb">5</text>
<text x="0" y="0" transform="translate(676.4 571.3) scale(0.88 1)" class="lb">4</text>
<text x="0" y="0" transform="translate(684.2 571.3) scale(0.88 1)" class="lb">6</text>
<text x="0" y="0" transform="translate(717.5 572.1) scale(0.88 1)" class="lb">4</text>
<text x="0" y="0" transform="translate(725.3 572.1) scale(0.88 1)" class="lb">7</text>
<text x="0" y="0" transform="translate(769.4 571.3) scale(0.88 1)" class="lb">3</text>
<text x="0" y="0" transform="translate(777.2 571.3) scale(0.88 1)" class="lb">2</text>
<text x="0" y="0" transform="translate(831 570.5) scale(0.88 1)" class="lb">3</text>
<text x="0" y="0" transform="translate(838.8 570.5) scale(0.88 1)" class="lb">3</text>
<text x="0" y="0" transform="translate(901.5 570.8) scale(0.88 1)" class="lb">4</text>
<text x="0" y="0" transform="translate(909.3 570.8) scale(0.88 1)" class="lb">9</text>
<text class="hd" x="18.2" y="29.3" font-size="15" textLength="71.8" lengthAdjust="spacingAndGlyphs">TRAKTOR</text>
<text class="hd" x="97.8" y="29.3" font-size="16" font-weight="bold" fill="#111">«</text>
<text class="hd" x="107.2" y="29.3" font-size="16" font-weight="bold" fill="#111" textLength="60.8" lengthAdjust="spacingAndGlyphs">TUBER</text>
<text class="hd" x="180" y="29.3" font-size="16" font-weight="bold" fill="#111" textLength="19.8" lengthAdjust="spacingAndGlyphs">40</text>
<text class="hd" x="200.5" y="29.3" font-size="16" font-weight="bold" fill="#111">»</text>
<text class="tt" x="318.5" y="45" font-size="38" textLength="365" lengthAdjust="spacingAndGlyphs" stroke="#111" stroke-width="0.7">Hátsó TLT kihajtás</text>
<text class="hd" x="878.6" y="29" font-size="22" textLength="120.6" lengthAdjust="spacingAndGlyphs">TABELA 12</text>
</svg>
</body></html>
